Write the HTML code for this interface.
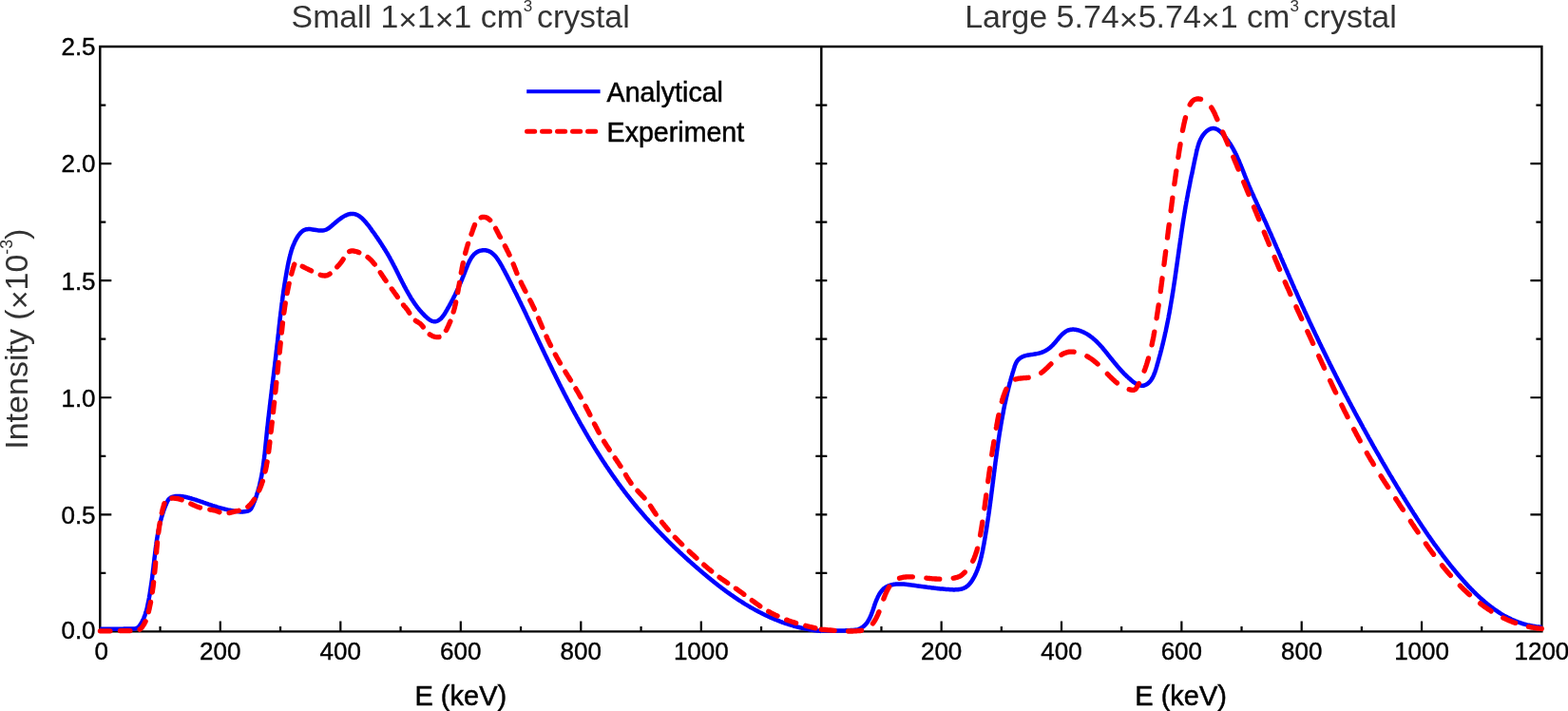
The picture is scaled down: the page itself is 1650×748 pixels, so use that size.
<!DOCTYPE html>
<html><head><meta charset="utf-8"><title>Intensity spectra</title>
<style>html,body{margin:0;padding:0;background:#fff;}body{width:1650px;height:748px;overflow:hidden;}svg{display:block;}</style>
</head><body>
<svg width="1650" height="748" viewBox="0 0 1650 748">
<rect width="1650" height="748" fill="#fff"/>
<path d="M105.3 49.0H1622.4V664.4H105.3Z" stroke="#000" stroke-width="2.4" fill="none" stroke-linejoin="miter"/>
<path d="M864.3 49.0V664.4" stroke="#000" stroke-width="2.4" fill="none"/>
<path d="M105.3 602.86h6M1622.4 602.86h-6M858.3 602.86h12M105.3 541.32h12M1622.4 541.32h-12M858.3 541.32h12M105.3 479.78h6M1622.4 479.78h-6M858.3 479.78h12M105.3 418.24h12M1622.4 418.24h-12M858.3 418.24h12M105.3 356.70h6M1622.4 356.70h-6M858.3 356.70h12M105.3 295.16h12M1622.4 295.16h-12M858.3 295.16h12M105.3 233.62h6M1622.4 233.62h-6M858.3 233.62h12M105.3 172.08h12M1622.4 172.08h-12M858.3 172.08h12M105.3 110.54h6M1622.4 110.54h-6M858.3 110.54h12M168.55 664.4v-5.5M927.47 664.4v-5.5M231.80 664.4v-11M990.65 664.4v-11M295.05 664.4v-5.5M1053.83 664.4v-5.5M358.30 664.4v-11M1117.00 664.4v-11M421.55 664.4v-5.5M1180.17 664.4v-5.5M484.80 664.4v-11M1243.35 664.4v-11M548.05 664.4v-5.5M1306.53 664.4v-5.5M611.30 664.4v-11M1369.70 664.4v-11M674.55 664.4v-5.5M1432.88 664.4v-5.5M737.80 664.4v-11M1496.05 664.4v-11M801.05 664.4v-5.5M1559.22 664.4v-5.5" stroke="#000" stroke-width="2.2" fill="none"/>
<path d="M105.4 661.8L106.4 661.8 107.4 661.8 108.4 661.8 109.4 661.8 110.4 661.8 111.4 661.8 112.4 661.8 113.4 661.8 114.4 661.8 115.4 661.8 116.4 661.8 117.4 661.7 118.4 661.7 119.4 661.7 120.4 661.7 121.4 661.7 122.4 661.7 123.4 661.7 124.4 661.7 125.4 661.7 126.4 661.7 127.4 661.7 128.4 661.7 129.4 661.7 130.4 661.6 131.4 661.6 132.4 661.6 133.4 661.6 134.4 661.6 135.4 661.6 136.4 661.5 137.4 661.5 138.4 661.5 139.4 661.5 140.4 661.4 141.4 661.4 142.3 661.3 143.3 661.1 144.1 660.7 144.9 660.3 145.6 659.7 146.3 658.9 146.9 658.2 147.5 657.4 148.0 656.5 148.6 655.7 149.1 654.8 149.5 654.0 150.0 653.1 150.5 652.2 150.9 651.3 151.3 650.4 151.7 649.4 152.0 648.5 152.4 647.6 152.7 646.6 153.0 645.7 153.3 644.7 153.6 643.8 153.9 642.8 154.2 641.9 154.4 640.9 154.7 639.9 154.9 638.9 155.1 638.0 155.3 637.0 155.5 636.0 155.7 635.0 155.9 634.1 156.1 633.1 156.3 632.1 156.5 631.1 156.7 630.1 156.9 629.1 157.0 628.2 157.2 627.2 157.4 626.2 157.6 625.2 157.7 624.2 157.9 623.2 158.0 622.2 158.2 621.3 158.3 620.3 158.5 619.3 158.6 618.3 158.8 617.3 158.9 616.3 159.1 615.3 159.2 614.3 159.4 613.3 159.5 612.3 159.6 611.4 159.8 610.4 159.9 609.4 160.0 608.4 160.2 607.4 160.3 606.4 160.4 605.4 160.5 604.4 160.7 603.4 160.8 602.4 160.9 601.4 161.0 600.4 161.1 599.5 161.3 598.5 161.4 597.5 161.5 596.5 161.6 595.5 161.7 594.5 161.8 593.5 162.0 592.5 162.1 591.5 162.2 590.5 162.3 589.5 162.4 588.5 162.5 587.5 162.6 586.5 162.8 585.5 162.9 584.6 163.0 583.6 163.1 582.6 163.2 581.6 163.3 580.6 163.5 579.6 163.6 578.6 163.7 577.6 163.8 576.6 164.0 575.6 164.1 574.6 164.2 573.6 164.4 572.6 164.5 571.7 164.6 570.7 164.8 569.7 164.9 568.7 165.1 567.7 165.2 566.7 165.4 565.7 165.6 564.7 165.7 563.7 165.9 562.8 166.1 561.8 166.2 560.8 166.4 559.8 166.6 558.8 166.8 557.8 167.0 556.9 167.2 555.9 167.4 554.9 167.6 553.9 167.8 552.9 168.0 552.0 168.3 551.0 168.5 550.0 168.7 549.1 169.0 548.1 169.2 547.1 169.5 546.2 169.7 545.2 170.0 544.2 170.3 543.3 170.6 542.3 170.9 541.4 171.2 540.4 171.5 539.4 171.8 538.5 172.1 537.5 172.4 536.6 172.8 535.7 173.1 534.7 173.5 533.8 173.8 532.9 174.2 531.9 174.6 531.0 175.0 530.1 175.4 529.2 175.8 528.3 176.2 527.4 176.7 526.5 177.2 525.7 177.8 525.0 178.5 524.3 179.3 523.8 180.2 523.3 181.1 523.0 182.0 522.7 183.0 522.4 184.0 522.2 184.9 522.1 185.9 522.0 186.9 522.0 187.9 522.0 188.9 522.0 189.9 522.1 190.9 522.2 191.9 522.3 192.9 522.5 193.9 522.6 194.9 522.8 195.8 523.0 196.8 523.2 197.8 523.5 198.8 523.7 199.7 524.0 200.7 524.2 201.6 524.5 202.6 524.8 203.6 525.1 204.5 525.4 205.5 525.7 206.4 526.0 207.4 526.3 208.3 526.6 209.3 526.9 210.2 527.3 211.2 527.6 212.1 527.9 213.0 528.2 214.0 528.6 214.9 528.9 215.9 529.2 216.8 529.6 217.8 529.9 218.7 530.2 219.6 530.6 220.6 530.9 221.5 531.2 222.5 531.5 223.4 531.8 224.4 532.1 225.3 532.4 226.3 532.7 227.3 533.0 228.2 533.3 229.2 533.6 230.1 533.9 231.1 534.2 232.1 534.4 233.0 534.7 234.0 534.9 235.0 535.2 235.9 535.4 236.9 535.7 237.9 535.9 238.8 536.1 239.8 536.4 240.8 536.6 241.8 536.8 242.8 537.0 243.7 537.2 244.7 537.3 245.7 537.5 246.7 537.7 247.7 537.8 248.7 538.0 249.7 538.1 250.7 538.2 251.6 538.3 252.6 538.4 253.6 538.4 254.6 538.4 255.6 538.4 256.6 538.3 257.6 538.2 258.6 538.1 259.6 537.9 260.5 537.7 261.5 537.3 262.3 536.9 263.1 536.4 263.7 535.7 264.3 535.0 264.8 534.1 265.2 533.3 265.6 532.4 266.1 531.5 266.5 530.5 266.8 529.6 267.2 528.7 267.6 527.8 268.0 526.8 268.3 525.9 268.7 525.0 269.0 524.0 269.4 523.1 269.7 522.1 270.0 521.2 270.3 520.2 270.6 519.3 270.9 518.3 271.2 517.4 271.5 516.4 271.8 515.5 272.0 514.5 272.3 513.5 272.6 512.6 272.8 511.6 273.1 510.6 273.3 509.7 273.5 508.7 273.7 507.7 274.0 506.7 274.2 505.8 274.4 504.8 274.6 503.8 274.8 502.8 275.0 501.8 275.2 500.9 275.4 499.9 275.5 498.9 275.7 497.9 275.9 496.9 276.1 495.9 276.2 494.9 276.4 494.0 276.5 493.0 276.7 492.0 276.8 491.0 277.0 490.0 277.1 489.0 277.2 488.0 277.4 487.0 277.5 486.0 277.6 485.0 277.8 484.1 277.9 483.1 278.0 482.1 278.1 481.1 278.2 480.1 278.3 479.1 278.5 478.1 278.6 477.1 278.7 476.1 278.8 475.1 278.9 474.1 279.0 473.1 279.1 472.1 279.2 471.1 279.3 470.1 279.4 469.1 279.5 468.2 279.6 467.2 279.7 466.2 279.8 465.2 279.9 464.2 280.0 463.2 280.1 462.2 280.2 461.2 280.3 460.2 280.4 459.2 280.5 458.2 280.6 457.2 280.7 456.2 280.8 455.2 280.9 454.2 281.0 453.2 281.1 452.2 281.2 451.2 281.3 450.2 281.4 449.3 281.6 448.3 281.7 447.3 281.8 446.3 281.9 445.3 282.0 444.3 282.1 443.3 282.2 442.3 282.3 441.3 282.4 440.3 282.5 439.3 282.7 438.3 282.8 437.3 282.9 436.3 283.0 435.3 283.1 434.3 283.2 433.4 283.3 432.4 283.5 431.4 283.6 430.4 283.7 429.4 283.8 428.4 283.9 427.4 284.0 426.4 284.2 425.4 284.3 424.4 284.4 423.4 284.5 422.4 284.6 421.4 284.7 420.4 284.9 419.4 285.0 418.5 285.1 417.5 285.2 416.5 285.3 415.5 285.5 414.5 285.6 413.5 285.7 412.5 285.8 411.5 285.9 410.5 286.1 409.5 286.2 408.5 286.3 407.5 286.4 406.5 286.5 405.5 286.7 404.6 286.8 403.6 286.9 402.6 287.0 401.6 287.1 400.6 287.3 399.6 287.4 398.6 287.5 397.6 287.6 396.6 287.8 395.6 287.9 394.6 288.0 393.6 288.1 392.6 288.2 391.7 288.4 390.7 288.5 389.7 288.6 388.7 288.7 387.7 288.8 386.7 289.0 385.7 289.1 384.7 289.2 383.7 289.3 382.7 289.4 381.7 289.5 380.7 289.7 379.7 289.8 378.7 289.9 377.8 290.0 376.8 290.1 375.8 290.3 374.8 290.4 373.8 290.5 372.8 290.6 371.8 290.7 370.8 290.8 369.8 290.9 368.8 291.1 367.8 291.2 366.8 291.3 365.8 291.4 364.8 291.5 363.8 291.6 362.9 291.7 361.9 291.9 360.9 292.0 359.9 292.1 358.9 292.2 357.9 292.3 356.9 292.4 355.9 292.5 354.9 292.6 353.9 292.7 352.9 292.8 351.9 293.0 350.9 293.1 349.9 293.2 348.9 293.3 347.9 293.4 346.9 293.5 346.0 293.6 345.0 293.7 344.0 293.8 343.0 293.9 342.0 294.1 341.0 294.2 340.0 294.3 339.0 294.4 338.0 294.5 337.0 294.6 336.0 294.7 335.0 294.8 334.0 295.0 333.0 295.1 332.0 295.2 331.0 295.3 330.1 295.4 329.1 295.5 328.1 295.7 327.1 295.8 326.1 295.9 325.1 296.0 324.1 296.1 323.1 296.3 322.1 296.4 321.1 296.5 320.1 296.6 319.1 296.8 318.1 296.9 317.2 297.0 316.2 297.2 315.2 297.3 314.2 297.4 313.2 297.5 312.2 297.7 311.2 297.8 310.2 298.0 309.2 298.1 308.2 298.2 307.2 298.4 306.3 298.5 305.3 298.7 304.3 298.8 303.3 299.0 302.3 299.1 301.3 299.3 300.3 299.4 299.3 299.6 298.3 299.7 297.4 299.9 296.4 300.0 295.4 300.2 294.4 300.4 293.4 300.5 292.4 300.7 291.4 300.9 290.4 301.0 289.5 301.2 288.5 301.4 287.5 301.6 286.5 301.7 285.5 301.9 284.5 302.1 283.6 302.3 282.6 302.5 281.6 302.6 280.6 302.8 279.6 303.0 278.6 303.2 277.7 303.4 276.7 303.6 275.7 303.8 274.7 304.1 273.8 304.3 272.8 304.5 271.8 304.7 270.8 305.0 269.9 305.2 268.9 305.4 267.9 305.7 267.0 306.0 266.0 306.3 265.0 306.5 264.1 306.8 263.1 307.1 262.2 307.5 261.2 307.8 260.3 308.1 259.3 308.5 258.4 308.9 257.5 309.3 256.6 309.7 255.6 310.1 254.7 310.5 253.8 311.0 252.9 311.4 252.1 311.9 251.2 312.4 250.3 312.9 249.5 313.5 248.6 314.0 247.8 314.6 247.0 315.2 246.2 315.9 245.4 316.6 244.7 317.3 244.0 318.0 243.4 318.8 242.8 319.7 242.3 320.6 241.9 321.5 241.5 322.4 241.3 323.4 241.2 324.4 241.1 325.4 241.1 326.4 241.1 327.4 241.2 328.3 241.4 329.3 241.5 330.3 241.7 331.3 241.8 332.3 242.0 333.3 242.1 334.3 242.3 335.3 242.4 336.3 242.5 337.3 242.5 338.3 242.5 339.2 242.5 340.2 242.4 341.2 242.2 342.2 241.9 343.1 241.6 344.0 241.2 344.8 240.7 345.7 240.2 346.5 239.6 347.3 239.0 348.1 238.4 348.8 237.7 349.6 237.1 350.3 236.4 351.1 235.8 351.9 235.1 352.6 234.5 353.4 233.8 354.1 233.2 354.9 232.6 355.7 231.9 356.5 231.3 357.3 230.7 358.1 230.1 358.9 229.5 359.7 229.0 360.6 228.4 361.4 227.9 362.3 227.4 363.2 226.9 364.1 226.5 365.0 226.1 365.9 225.7 366.8 225.4 367.8 225.2 368.8 225.0 369.7 224.9 370.7 224.9 371.7 224.9 372.7 225.1 373.7 225.3 374.6 225.6 375.5 226.0 376.4 226.4 377.3 226.9 378.1 227.4 378.9 228.0 379.7 228.6 380.5 229.3 381.2 229.9 381.9 230.6 382.6 231.3 383.3 232.1 384.0 232.8 384.6 233.5 385.3 234.3 385.9 235.1 386.5 235.9 387.2 236.6 387.8 237.4 388.4 238.2 389.0 239.0 389.6 239.8 390.2 240.6 390.8 241.5 391.3 242.3 391.9 243.1 392.5 243.9 393.1 244.7 393.7 245.5 394.3 246.3 394.8 247.1 395.4 248.0 396.0 248.8 396.5 249.6 397.1 250.4 397.7 251.2 398.2 252.1 398.8 252.9 399.4 253.7 399.9 254.6 400.5 255.4 401.0 256.2 401.6 257.1 402.1 257.9 402.6 258.8 403.2 259.6 403.7 260.4 404.2 261.3 404.8 262.1 405.3 263.0 405.8 263.8 406.3 264.7 406.9 265.6 407.4 266.4 407.9 267.3 408.4 268.1 408.9 269.0 409.4 269.9 409.9 270.7 410.4 271.6 410.8 272.5 411.3 273.4 411.8 274.2 412.3 275.1 412.7 276.0 413.2 276.9 413.7 277.8 414.1 278.7 414.6 279.6 415.1 280.4 415.5 281.3 416.0 282.2 416.4 283.1 416.9 284.0 417.3 284.9 417.8 285.8 418.2 286.7 418.7 287.6 419.1 288.5 419.6 289.4 420.0 290.3 420.4 291.2 420.9 292.1 421.3 293.0 421.8 293.8 422.2 294.7 422.7 295.6 423.1 296.5 423.6 297.4 424.1 298.3 424.5 299.2 425.0 300.1 425.4 301.0 425.9 301.8 426.4 302.7 426.8 303.6 427.3 304.5 427.8 305.4 428.3 306.2 428.8 307.1 429.3 308.0 429.8 308.9 430.3 309.7 430.8 310.6 431.3 311.4 431.8 312.3 432.3 313.2 432.8 314.0 433.4 314.9 433.9 315.7 434.5 316.5 435.0 317.4 435.6 318.2 436.1 319.0 436.7 319.8 437.3 320.7 437.9 321.5 438.5 322.3 439.1 323.1 439.7 323.9 440.3 324.6 440.9 325.4 441.6 326.2 442.2 327.0 442.9 327.7 443.5 328.5 444.2 329.2 444.9 329.9 445.6 330.6 446.3 331.4 447.0 332.1 447.7 332.8 448.4 333.4 449.2 334.1 449.9 334.8 450.7 335.4 451.5 336.0 452.3 336.6 453.2 337.1 454.0 337.5 454.9 337.9 455.9 338.1 456.8 338.3 457.8 338.3 458.7 338.2 459.7 337.9 460.6 337.5 461.4 337.1 462.3 336.5 463.1 335.9 463.8 335.3 464.5 334.6 465.2 333.8 465.8 333.0 466.4 332.3 467.0 331.4 467.5 330.6 468.1 329.8 468.6 328.9 469.1 328.1 469.6 327.2 470.1 326.4 470.6 325.5 471.1 324.6 471.6 323.7 472.1 322.9 472.6 322.0 473.1 321.1 473.6 320.3 474.1 319.4 474.5 318.5 475.0 317.6 475.5 316.7 475.9 315.9 476.4 315.0 476.9 314.1 477.3 313.2 477.8 312.3 478.2 311.4 478.7 310.5 479.1 309.6 479.6 308.7 480.0 307.8 480.4 306.9 480.8 306.0 481.3 305.1 481.7 304.2 482.1 303.3 482.5 302.4 482.9 301.5 483.3 300.5 483.7 299.6 484.1 298.7 484.5 297.8 484.9 296.9 485.3 295.9 485.7 295.0 486.1 294.1 486.4 293.2 486.8 292.2 487.2 291.3 487.6 290.4 487.9 289.5 488.3 288.5 488.7 287.6 489.0 286.7 489.4 285.7 489.7 284.8 490.1 283.9 490.5 282.9 490.8 282.0 491.2 281.1 491.6 280.1 492.0 279.2 492.3 278.3 492.7 277.4 493.2 276.5 493.6 275.6 494.0 274.7 494.5 273.8 495.0 272.9 495.5 272.1 496.0 271.2 496.6 270.4 497.2 269.6 497.8 268.8 498.4 268.1 499.1 267.3 499.9 266.7 500.6 266.1 501.4 265.5 502.3 265.0 503.2 264.5 504.1 264.1 505.0 263.8 506.0 263.6 507.0 263.4 507.9 263.3 508.9 263.2 509.9 263.2 510.9 263.3 511.9 263.5 512.8 263.7 513.8 264.0 514.7 264.4 515.6 264.8 516.5 265.3 517.3 265.9 518.1 266.5 518.8 267.1 519.6 267.8 520.3 268.5 521.0 269.2 521.6 269.9 522.2 270.7 522.8 271.5 523.4 272.3 524.0 273.2 524.5 274.0 525.1 274.8 525.6 275.7 526.1 276.5 526.6 277.4 527.1 278.3 527.6 279.1 528.1 280.0 528.6 280.9 529.0 281.8 529.5 282.7 530.0 283.5 530.5 284.4 530.9 285.3 531.4 286.2 531.9 287.1 532.3 288.0 532.8 288.8 533.3 289.7 533.7 290.6 534.2 291.5 534.6 292.4 535.1 293.3 535.6 294.2 536.0 295.1 536.5 295.9 536.9 296.8 537.4 297.7 537.8 298.6 538.3 299.5 538.7 300.4 539.2 301.3 539.6 302.2 540.1 303.1 540.5 304.0 541.0 304.9 541.4 305.8 541.9 306.7 542.3 307.6 542.8 308.4 543.2 309.3 543.7 310.2 544.1 311.1 544.5 312.0 545.0 312.9 545.4 313.8 545.9 314.7 546.3 315.6 546.7 316.5 547.2 317.4 547.6 318.3 548.1 319.2 548.5 320.1 548.9 321.0 549.4 321.9 549.8 322.8 550.2 323.7 550.7 324.6 551.1 325.5 551.5 326.4 552.0 327.3 552.4 328.2 552.8 329.1 553.3 330.0 553.7 330.9 554.1 331.8 554.5 332.7 555.0 333.7 555.4 334.6 555.8 335.5 556.3 336.4 556.7 337.3 557.1 338.2 557.5 339.1 558.0 340.0 558.4 340.9 558.8 341.8 559.2 342.7 559.7 343.6 560.1 344.5 560.5 345.4 561.0 346.3 561.4 347.2 561.8 348.1 562.2 349.0 562.7 349.9 563.1 350.8 563.5 351.7 563.9 352.6 564.4 353.5 564.8 354.5 565.2 355.4 565.6 356.3 566.1 357.2 566.5 358.1 566.9 359.0 567.3 359.9 567.8 360.8 568.2 361.7 568.6 362.6 569.1 363.5 569.5 364.4 569.9 365.3 570.3 366.2 570.8 367.1 571.2 368.0 571.6 368.9 572.1 369.8 572.5 370.7 572.9 371.6 573.3 372.5 573.8 373.4 574.2 374.3 574.6 375.2 575.1 376.1 575.5 377.0 575.9 377.9 576.4 378.8 576.8 379.7 577.2 380.6 577.7 381.5 578.1 382.4 578.5 383.3 579.0 384.2 579.4 385.1 579.9 386.0 580.3 386.9 580.7 387.8 581.2 388.7 581.6 389.6 582.0 390.5 582.5 391.4 582.9 392.3 583.4 393.2 583.8 394.1 584.3 395.0 584.7 395.9 585.1 396.8 585.6 397.7 586.0 398.6 586.5 399.5 586.9 400.4 587.4 401.3 587.8 402.2 588.3 403.1 588.7 404.0 589.2 404.9 589.6 405.8 590.1 406.6 590.5 407.5 591.0 408.4 591.4 409.3 591.9 410.2 592.3 411.1 592.8 412.0 593.2 412.9 593.7 413.8 594.2 414.7 594.6 415.6 595.1 416.4 595.5 417.3 596.0 418.2 596.5 419.1 596.9 420.0 597.4 420.9 597.9 421.8 598.3 422.6 598.8 423.5 599.3 424.4 599.7 425.3 600.2 426.2 600.7 427.1 601.1 428.0 601.6 428.8 602.1 429.7 602.5 430.6 603.0 431.5 603.5 432.4 604.0 433.2 604.4 434.1 604.9 435.0 605.4 435.9 605.9 436.7 606.4 437.6 606.8 438.5 607.3 439.4 607.8 440.3 608.3 441.1 608.8 442.0 609.3 442.9 609.7 443.8 610.2 444.6 610.7 445.5 611.2 446.4 611.7 447.2 612.2 448.1 612.7 449.0 613.2 449.8 613.7 450.7 614.2 451.6 614.7 452.5 615.2 453.3 615.7 454.2 616.2 455.1 616.7 455.9 617.2 456.8 617.7 457.6 618.2 458.5 618.7 459.4 619.2 460.2 619.7 461.1 620.2 461.9 620.7 462.8 621.3 463.7 621.8 464.5 622.3 465.4 622.8 466.2 623.3 467.1 623.8 467.9 624.4 468.8 624.9 469.7 625.4 470.5 625.9 471.4 626.4 472.2 627.0 473.1 627.5 473.9 628.0 474.8 628.6 475.6 629.1 476.5 629.6 477.3 630.2 478.1 630.7 479.0 631.2 479.8 631.8 480.7 632.3 481.5 632.8 482.4 633.4 483.2 633.9 484.0 634.5 484.9 635.0 485.7 635.6 486.6 636.1 487.4 636.7 488.2 637.2 489.1 637.8 489.9 638.3 490.7 638.9 491.6 639.4 492.4 640.0 493.2 640.6 494.0 641.1 494.9 641.7 495.7 642.3 496.5 642.8 497.3 643.4 498.2 644.0 499.0 644.5 499.8 645.1 500.6 645.7 501.4 646.3 502.3 646.8 503.1 647.4 503.9 648.0 504.7 648.6 505.5 649.2 506.3 649.7 507.1 650.3 508.0 650.9 508.8 651.5 509.6 652.1 510.4 652.7 511.2 653.3 512.0 653.9 512.8 654.5 513.6 655.1 514.4 655.7 515.2 656.3 516.0 656.9 516.8 657.5 517.6 658.1 518.4 658.7 519.2 659.3 520.0 659.9 520.8 660.5 521.5 661.2 522.3 661.8 523.1 662.4 523.9 663.0 524.7 663.6 525.5 664.3 526.3 664.9 527.0 665.5 527.8 666.1 528.6 666.8 529.4 667.4 530.1 668.0 530.9 668.7 531.7 669.3 532.5 669.9 533.2 670.6 534.0 671.2 534.8 671.9 535.5 672.5 536.3 673.2 537.1 673.8 537.8 674.5 538.6 675.1 539.3 675.8 540.1 676.4 540.8 677.1 541.6 677.7 542.4 678.4 543.1 679.1 543.9 679.7 544.6 680.4 545.4 681.1 546.1 681.7 546.8 682.4 547.6 683.1 548.3 683.7 549.1 684.4 549.8 685.1 550.5 685.8 551.3 686.4 552.0 687.1 552.8 687.8 553.5 688.5 554.2 689.2 555.0 689.8 555.7 690.5 556.4 691.2 557.1 691.9 557.9 692.6 558.6 693.3 559.3 694.0 560.0 694.7 560.7 695.4 561.5 696.1 562.2 696.8 562.9 697.5 563.6 698.2 564.3 698.9 565.0 699.6 565.7 700.3 566.5 701.0 567.2 701.7 567.9 702.4 568.6 703.1 569.3 703.8 570.0 704.5 570.7 705.2 571.4 706.0 572.1 706.7 572.8 707.4 573.5 708.1 574.2 708.8 574.9 709.5 575.6 710.3 576.3 711.0 577.0 711.7 577.6 712.4 578.3 713.2 579.0 713.9 579.7 714.6 580.4 715.3 581.1 716.1 581.8 716.8 582.4 717.5 583.1 718.3 583.8 719.0 584.5 719.8 585.1 720.5 585.8 721.2 586.5 722.0 587.2 722.7 587.8 723.4 588.5 724.2 589.2 724.9 589.9 725.7 590.5 726.4 591.2 727.2 591.8 727.9 592.5 728.7 593.2 729.4 593.8 730.2 594.5 730.9 595.2 731.7 595.8 732.4 596.5 733.2 597.1 733.9 597.8 734.7 598.4 735.5 599.1 736.2 599.7 737.0 600.4 737.7 601.0 738.5 601.7 739.3 602.3 740.0 603.0 740.8 603.6 741.6 604.3 742.3 604.9 743.1 605.5 743.9 606.2 744.6 606.8 745.4 607.5 746.2 608.1 747.0 608.7 747.7 609.4 748.5 610.0 749.3 610.6 750.1 611.2 750.8 611.9 751.6 612.5 752.4 613.1 753.2 613.7 754.0 614.4 754.8 615.0 755.6 615.6 756.3 616.2 757.1 616.8 757.9 617.4 758.7 618.0 759.5 618.6 760.3 619.2 761.1 619.8 761.9 620.4 762.7 621.0 763.5 621.6 764.3 622.2 765.1 622.8 766.0 623.4 766.8 624.0 767.6 624.5 768.4 625.1 769.2 625.7 770.0 626.3 770.9 626.8 771.7 627.4 772.5 628.0 773.3 628.5 774.2 629.1 775.0 629.7 775.8 630.2 776.7 630.8 777.5 631.3 778.3 631.9 779.2 632.4 780.0 632.9 780.9 633.5 781.7 634.0 782.5 634.5 783.4 635.1 784.2 635.6 785.1 636.1 786.0 636.6 786.8 637.1 787.7 637.6 788.5 638.1 789.4 638.7 790.3 639.2 791.1 639.6 792.0 640.1 792.9 640.6 793.8 641.1 794.6 641.6 795.5 642.1 796.4 642.5 797.3 643.0 798.2 643.5 799.0 643.9 799.9 644.4 800.8 644.9 801.7 645.3 802.6 645.8 803.5 646.2 804.4 646.6 805.3 647.1 806.2 647.5 807.1 647.9 808.0 648.3 808.9 648.8 809.8 649.2 810.8 649.6 811.7 650.0 812.6 650.4 813.5 650.8 814.4 651.2 815.4 651.6 816.3 651.9 817.2 652.3 818.1 652.7 819.1 653.0 820.0 653.4 820.9 653.8 821.9 654.1 822.8 654.5 823.7 654.8 824.7 655.1 825.6 655.5 826.6 655.8 827.5 656.1 828.5 656.4 829.4 656.7 830.4 657.1 831.3 657.3 832.3 657.6 833.2 657.9 834.2 658.2 835.2 658.5 836.1 658.8 837.1 659.0 838.1 659.3 839.0 659.5 840.0 659.8 841.0 660.0 841.9 660.3 842.9 660.5 843.9 660.7 844.9 660.9 845.8 661.1 846.8 661.4 847.8 661.6 848.8 661.7 849.8 661.9 850.7 662.1 851.7 662.3 852.7 662.4 853.7 662.6 854.7 662.8 855.7 662.9 856.7 663.0 857.7 663.2 858.6 663.3 859.6 663.4 860.6 663.5 861.6 663.6 862.5 663.7 863.4 663.8 864.2 663.9" stroke="#0000ff" stroke-width="4.5" fill="none" stroke-linejoin="round"/>
<path d="M105.4 663.8L106.4 663.8 107.4 663.8 108.4 663.8 109.4 663.8 110.4 663.8 111.4 663.8 112.4 663.8 113.4 663.8 114.4 663.8 115.4 663.8 116.4 663.8 117.4 663.8 118.4 663.8 119.4 663.8 120.4 663.8 121.4 663.8 122.4 663.8 123.4 663.8 124.4 663.8 125.4 663.8 126.4 663.7 127.4 663.7 128.4 663.7 129.4 663.7 130.4 663.7 131.4 663.7 132.4 663.7 133.4 663.7 134.4 663.6 135.4 663.6 136.4 663.6 137.4 663.6 138.4 663.6 139.4 663.6 140.4 663.5 141.4 663.5 142.4 663.5 143.4 663.4 144.3 663.3 145.3 663.1 146.1 662.7 146.9 662.3 147.7 661.7 148.4 661.0 149.1 660.3 149.7 659.5 150.3 658.7 150.8 657.9 151.4 657.0 151.9 656.1 152.3 655.3 152.8 654.4 153.2 653.5 153.6 652.5 153.9 651.6 154.3 650.7 154.6 649.7 154.9 648.8 155.2 647.8 155.5 646.9 155.8 645.9 156.0 644.9 156.3 644.0 156.5 643.0 156.7 642.0 157.0 641.1 157.2 640.1 157.4 639.1 157.6 638.1 157.8 637.1 158.0 636.2 158.2 635.2 158.4 634.2 158.6 633.2 158.7 632.2 158.9 631.2 159.1 630.3 159.3 629.3 159.4 628.3 159.6 627.3 159.8 626.3 159.9 625.3 160.1 624.3 160.2 623.4 160.4 622.4 160.5 621.4 160.6 620.4 160.8 619.4 160.9 618.4 161.1 617.4 161.2 616.4 161.3 615.4 161.4 614.4 161.5 613.4 161.7 612.4 161.8 611.5 161.9 610.5 162.0 609.5 162.1 608.5 162.2 607.5 162.3 606.5 162.4 605.5 162.5 604.5 162.6 603.5 162.7 602.5 162.8 601.5 162.9 600.5 163.0 599.5 163.1 598.5 163.2 597.5 163.3 596.5 163.4 595.5 163.5 594.5 163.6 593.5 163.6 592.5 163.7 591.6 163.8 590.6 163.9 589.6 164.0 588.6 164.1 587.6 164.1 586.6 164.2 585.6 164.3 584.6 164.4 583.6 164.5 582.6 164.6 581.6 164.7 580.6 164.7 579.6 164.8 578.6 164.9 577.6 165.0 576.6 165.1 575.6 165.2 574.6 165.3 573.6 165.4 572.6 165.5 571.6 165.6 570.6 165.7 569.6 165.8 568.6 165.9 567.7 166.0 566.7 166.1 565.7 166.2 564.7 166.3 563.7 166.5 562.7 166.6 561.7 166.7 560.7 166.8 559.7 167.0 558.7 167.1 557.7 167.2 556.7 167.4 555.7 167.5 554.8 167.7 553.8 167.8 552.8 168.0 551.8 168.1 550.8 168.3 549.8 168.5 548.8 168.7 547.8 168.8 546.9 169.0 545.9 169.2 544.9 169.4 543.9 169.6 542.9 169.8 542.0 170.0 541.0 170.2 540.0 170.5 539.0 170.7 538.1 170.9 537.1 171.1 536.1 171.4 535.1 171.6 534.2 171.9 533.2 172.2 532.2 172.4 531.3 172.7 530.3 173.0 529.4 173.3 528.5 173.7 527.6 174.2 526.8 174.8 526.1 175.6 525.6 176.4 525.2 177.3 524.9 178.3 524.6 179.2 524.4 180.2 524.3 181.2 524.2 182.2 524.2 183.2 524.2 184.2 524.3 185.2 524.4 186.2 524.5 187.1 524.7 188.1 524.9 189.1 525.2 190.0 525.5 191.0 525.8 191.9 526.1 192.8 526.5 193.8 526.9 194.7 527.3 195.6 527.7 196.5 528.1 197.4 528.5 198.3 528.9 199.3 529.3 200.2 529.7 201.1 530.2 202.0 530.6 202.9 531.0 203.8 531.4 204.7 531.8 205.6 532.2 206.5 532.6 207.5 533.0 208.4 533.3 209.3 533.7 210.3 534.0 211.3 534.3 212.2 534.5 213.2 534.8 214.2 535.0 215.1 535.2 216.1 535.3 217.1 535.5 218.1 535.7 219.1 535.8 220.1 536.0 221.1 536.1 222.1 536.3 223.0 536.4 224.0 536.6 225.0 536.8 226.0 537.0 226.9 537.3 227.9 537.6 228.8 537.9 229.8 538.3 230.7 538.7 231.6 539.1 232.5 539.4 233.5 539.8 234.4 540.0 235.4 540.2 236.3 540.3 237.3 540.3 238.3 540.2 239.3 540.0 240.3 539.8 241.2 539.6 242.2 539.3 243.2 539.1 244.1 538.8 245.1 538.6 246.1 538.3 247.0 538.1 248.0 537.9 249.0 537.7 250.0 537.5 250.9 537.3 251.9 537.0 252.9 536.8 253.8 536.5 254.8 536.2 255.7 535.9 256.7 535.6 257.6 535.1 258.5 534.7 259.3 534.2 260.1 533.6 260.9 533.0 261.7 532.4 262.4 531.7 263.1 531.0 263.8 530.3 264.5 529.5 265.1 528.8 265.7 528.0 266.3 527.2 266.9 526.4 267.5 525.5 268.0 524.7 268.6 523.9 269.1 523.0 269.6 522.1 270.1 521.3 270.5 520.4 271.0 519.5 271.5 518.6 271.9 517.7 272.3 516.8 272.7 515.9 273.1 515.0 273.5 514.1 273.9 513.1 274.3 512.2 274.6 511.3 275.0 510.3 275.3 509.4 275.6 508.5 275.9 507.5 276.3 506.6 276.6 505.6 276.8 504.6 277.1 503.7 277.4 502.7 277.7 501.8 277.9 500.8 278.2 499.8 278.4 498.9 278.7 497.9 278.9 496.9 279.1 495.9 279.3 495.0 279.6 494.0 279.8 493.0 280.0 492.0 280.2 491.0 280.4 490.1 280.5 489.1 280.7 488.1 280.9 487.1 281.1 486.1 281.2 485.1 281.4 484.2 281.5 483.2 281.7 482.2 281.8 481.2 282.0 480.2 282.1 479.2 282.3 478.2 282.4 477.2 282.5 476.2 282.7 475.3 282.8 474.3 282.9 473.3 283.1 472.3 283.2 471.3 283.3 470.3 283.4 469.3 283.5 468.3 283.7 467.3 283.8 466.3 283.9 465.3 284.0 464.3 284.1 463.3 284.2 462.3 284.3 461.4 284.5 460.4 284.6 459.4 284.7 458.4 284.8 457.4 284.9 456.4 285.0 455.4 285.1 454.4 285.2 453.4 285.4 452.4 285.5 451.4 285.6 450.4 285.7 449.4 285.8 448.4 285.9 447.4 286.0 446.4 286.1 445.5 286.3 444.5 286.4 443.5 286.5 442.5 286.6 441.5 286.7 440.5 286.8 439.5 286.9 438.5 287.0 437.5 287.1 436.5 287.3 435.5 287.4 434.5 287.5 433.5 287.6 432.5 287.7 431.5 287.8 430.5 287.9 429.6 288.0 428.6 288.1 427.6 288.2 426.6 288.3 425.6 288.5 424.6 288.6 423.6 288.7 422.6 288.8 421.6 288.9 420.6 289.0 419.6 289.1 418.6 289.2 417.6 289.3 416.6 289.4 415.6 289.5 414.6 289.6 413.6 289.7 412.7 289.9 411.7 290.0 410.7 290.1 409.7 290.2 408.7 290.3 407.7 290.4 406.7 290.5 405.7 290.6 404.7 290.7 403.7 290.8 402.7 290.9 401.7 291.0 400.7 291.1 399.7 291.2 398.7 291.3 397.7 291.5 396.7 291.6 395.7 291.7 394.8 291.8 393.8 291.9 392.8 292.0 391.8 292.1 390.8 292.2 389.8 292.3 388.8 292.4 387.8 292.5 386.8 292.6 385.8 292.7 384.8 292.8 383.8 292.9 382.8 293.0 381.8 293.1 380.8 293.2 379.8 293.3 378.8 293.4 377.8 293.5 376.9 293.6 375.9 293.8 374.9 293.9 373.9 294.0 372.9 294.1 371.9 294.2 370.9 294.3 369.9 294.4 368.9 294.5 367.9 294.6 366.9 294.7 365.9 294.8 364.9 294.9 363.9 295.0 362.9 295.1 361.9 295.2 360.9 295.3 359.9 295.4 358.9 295.5 358.0 295.6 357.0 295.7 356.0 295.8 355.0 295.9 354.0 296.0 353.0 296.1 352.0 296.2 351.0 296.3 350.0 296.4 349.0 296.6 348.0 296.7 347.0 296.8 346.0 296.9 345.0 297.0 344.0 297.1 343.0 297.2 342.0 297.3 341.1 297.4 340.1 297.6 339.1 297.7 338.1 297.8 337.1 297.9 336.1 298.0 335.1 298.2 334.1 298.3 333.1 298.4 332.1 298.6 331.1 298.7 330.1 298.8 329.1 298.9 328.2 299.1 327.2 299.2 326.2 299.4 325.2 299.5 324.2 299.6 323.2 299.8 322.2 299.9 321.2 300.1 320.2 300.2 319.2 300.4 318.3 300.6 317.3 300.7 316.3 300.9 315.3 301.1 314.3 301.2 313.3 301.4 312.3 301.6 311.4 301.7 310.4 301.9 309.4 302.1 308.4 302.3 307.4 302.5 306.4 302.7 305.5 302.9 304.5 303.1 303.5 303.3 302.5 303.5 301.5 303.7 300.6 303.9 299.6 304.1 298.6 304.4 297.6 304.6 296.7 304.8 295.7 305.0 294.7 305.3 293.7 305.5 292.8 305.8 291.8 306.0 290.8 306.3 289.9 306.5 288.9 306.8 287.9 307.0 287.0 307.3 286.0 307.6 285.0 307.9 284.1 308.1 283.1 308.4 282.2 308.7 281.2 309.0 280.3 309.3 279.3 309.6 278.4 310.0 277.6 310.4 276.9 310.8 276.5 311.4 276.3 312.0 276.5 312.8 276.8 313.5 277.3 314.4 277.9 315.2 278.4 316.0 278.9 316.9 279.5 317.7 280.0 318.6 280.5 319.5 280.9 320.4 281.4 321.3 281.8 322.2 282.3 323.1 282.7 324.0 283.1 324.9 283.6 325.8 284.0 326.7 284.4 327.6 284.9 328.5 285.3 329.4 285.8 330.3 286.2 331.2 286.7 332.1 287.1 333.0 287.5 333.9 287.9 334.8 288.3 335.7 288.7 336.6 289.1 337.6 289.4 338.6 289.6 339.5 289.8 340.5 289.9 341.5 290.0 342.5 290.0 343.4 289.8 344.4 289.6 345.3 289.2 346.1 288.7 347.0 288.2 347.8 287.6 348.5 287.0 349.2 286.3 350.0 285.6 350.7 284.9 351.4 284.2 352.1 283.5 352.8 282.8 353.5 282.0 354.2 281.3 354.9 280.6 355.6 279.9 356.2 279.2 356.9 278.4 357.6 277.7 358.2 276.9 358.8 276.1 359.4 275.3 360.0 274.5 360.6 273.7 361.1 272.8 361.6 272.0 362.1 271.1 362.6 270.3 363.1 269.4 363.7 268.5 364.2 267.7 364.8 266.9 365.4 266.2 366.1 265.5 366.9 264.9 367.7 264.5 368.6 264.2 369.6 264.0 370.5 263.9 371.5 263.9 372.5 264.1 373.5 264.3 374.4 264.5 375.4 264.8 376.4 265.1 377.3 265.4 378.2 265.8 379.2 266.1 380.1 266.5 381.0 267.0 381.9 267.4 382.8 267.9 383.6 268.4 384.5 268.9 385.3 269.4 386.1 270.0 386.9 270.6 387.7 271.2 388.5 271.8 389.2 272.5 390.0 273.2 390.7 273.9 391.4 274.6 392.0 275.4 392.7 276.1 393.3 276.9 394.0 277.7 394.6 278.4 395.2 279.2 395.8 280.0 396.3 280.9 396.9 281.7 397.5 282.5 398.0 283.3 398.6 284.2 399.1 285.0 399.7 285.8 400.2 286.7 400.8 287.5 401.3 288.4 401.9 289.2 402.4 290.0 403.0 290.9 403.5 291.7 404.1 292.5 404.6 293.4 405.2 294.2 405.8 295.0 406.4 295.8 406.9 296.6 407.5 297.4 408.1 298.3 408.7 299.1 409.3 299.9 409.9 300.7 410.5 301.5 411.0 302.3 411.6 303.1 412.2 303.9 412.8 304.7 413.4 305.5 414.0 306.3 414.6 307.1 415.2 308.0 415.8 308.8 416.3 309.6 416.9 310.4 417.5 311.2 418.0 312.0 418.6 312.9 419.2 313.7 419.7 314.5 420.3 315.4 420.9 316.2 421.4 317.0 422.0 317.8 422.6 318.6 423.2 319.4 423.8 320.2 424.5 320.9 425.1 321.7 425.8 322.5 426.5 323.2 427.1 324.0 427.7 324.7 428.4 325.5 429.0 326.3 429.5 327.1 430.0 328.0 430.6 328.8 431.0 329.7 431.5 330.6 432.0 331.5 432.5 332.3 433.1 333.2 433.6 334.0 434.3 334.7 434.9 335.5 435.7 336.1 436.4 336.7 437.3 337.3 438.1 337.9 438.9 338.4 439.8 338.9 440.6 339.5 441.5 340.0 442.2 340.6 443.0 341.3 443.7 342.0 444.3 342.7 445.0 343.5 445.5 344.3 446.1 345.1 446.7 345.9 447.3 346.8 447.9 347.6 448.5 348.3 449.1 349.1 449.8 349.8 450.6 350.5 451.3 351.1 452.1 351.7 452.9 352.3 453.8 352.8 454.7 353.3 455.6 353.7 456.5 354.0 457.4 354.3 458.4 354.5 459.4 354.7 460.3 354.7 461.3 354.6 462.3 354.5 463.2 354.2 464.1 353.8 464.9 353.3 465.7 352.7 466.4 352.0 467.0 351.2 467.6 350.5 468.2 349.6 468.7 348.8 469.2 347.9 469.7 347.1 470.2 346.2 470.6 345.3 471.1 344.4 471.5 343.5 471.9 342.6 472.3 341.7 472.7 340.7 473.1 339.8 473.5 338.9 473.9 338.0 474.2 337.0 474.6 336.1 474.9 335.2 475.3 334.2 475.6 333.3 475.9 332.3 476.2 331.4 476.5 330.4 476.8 329.5 477.1 328.5 477.3 327.5 477.6 326.6 477.9 325.6 478.1 324.6 478.4 323.7 478.6 322.7 478.8 321.7 479.1 320.8 479.3 319.8 479.5 318.8 479.7 317.8 479.9 316.8 480.1 315.9 480.3 314.9 480.5 313.9 480.7 312.9 480.9 311.9 481.1 311.0 481.3 310.0 481.5 309.0 481.6 308.0 481.8 307.0 482.0 306.0 482.2 305.1 482.3 304.1 482.5 303.1 482.7 302.1 482.9 301.1 483.0 300.1 483.2 299.2 483.4 298.2 483.5 297.2 483.7 296.2 483.9 295.2 484.0 294.2 484.2 293.2 484.4 292.3 484.5 291.3 484.7 290.3 484.9 289.3 485.1 288.3 485.2 287.3 485.4 286.3 485.6 285.4 485.8 284.4 486.0 283.4 486.1 282.4 486.3 281.4 486.5 280.4 486.7 279.5 486.9 278.5 487.1 277.5 487.3 276.5 487.5 275.5 487.7 274.6 487.9 273.6 488.2 272.6 488.4 271.6 488.6 270.7 488.8 269.7 489.1 268.7 489.3 267.8 489.5 266.8 489.8 265.8 490.1 264.8 490.3 263.9 490.6 262.9 490.9 262.0 491.1 261.0 491.4 260.0 491.7 259.1 492.0 258.1 492.3 257.2 492.6 256.2 492.9 255.3 493.3 254.3 493.6 253.4 493.9 252.4 494.2 251.5 494.5 250.5 494.9 249.6 495.2 248.6 495.5 247.7 495.9 246.8 496.2 245.8 496.5 244.9 496.9 243.9 497.2 243.0 497.5 242.0 497.9 241.1 498.2 240.2 498.5 239.2 498.9 238.3 499.3 237.4 499.6 236.4 500.0 235.5 500.5 234.6 501.0 233.8 501.5 232.9 502.1 232.1 502.7 231.3 503.4 230.6 504.1 230.0 504.9 229.4 505.8 229.0 506.7 228.6 507.6 228.4 508.6 228.3 509.5 228.3 510.5 228.5 511.4 228.8 512.3 229.1 513.2 229.6 514.0 230.2 514.8 230.8 515.5 231.4 516.2 232.2 516.9 232.9 517.5 233.7 518.1 234.5 518.7 235.3 519.2 236.1 519.7 237.0 520.2 237.8 520.7 238.7 521.2 239.6 521.7 240.5 522.1 241.4 522.6 242.2 523.0 243.1 523.5 244.0 523.9 244.9 524.4 245.8 524.9 246.7 525.3 247.6 525.8 248.5 526.3 249.3 526.8 250.2 527.2 251.1 527.7 252.0 528.2 252.9 528.7 253.7 529.1 254.6 529.6 255.5 530.1 256.4 530.6 257.3 531.0 258.1 531.5 259.0 532.0 259.9 532.4 260.8 532.9 261.7 533.3 262.6 533.8 263.5 534.2 264.4 534.7 265.2 535.1 266.1 535.5 267.1 536.0 268.0 536.4 268.9 536.8 269.8 537.2 270.7 537.6 271.6 538.0 272.5 538.4 273.4 538.8 274.4 539.1 275.3 539.5 276.2 539.9 277.2 540.3 278.1 540.6 279.0 541.0 279.9 541.4 280.9 541.7 281.8 542.1 282.7 542.4 283.7 542.8 284.6 543.2 285.5 543.5 286.5 543.9 287.4 544.3 288.3 544.7 289.2 545.1 290.2 545.5 291.1 545.9 292.0 546.3 292.9 546.7 293.8 547.1 294.7 547.5 295.6 547.9 296.5 548.4 297.4 548.8 298.3 549.2 299.2 549.7 300.1 550.1 301.0 550.6 301.9 551.0 302.8 551.5 303.7 551.9 304.6 552.4 305.5 552.9 306.4 553.3 307.3 553.8 308.2 554.2 309.0 554.7 309.9 555.2 310.8 555.6 311.7 556.1 312.6 556.5 313.5 557.0 314.4 557.5 315.3 557.9 316.2 558.4 317.0 558.8 317.9 559.3 318.8 559.7 319.7 560.1 320.6 560.6 321.5 561.0 322.4 561.4 323.3 561.9 324.2 562.3 325.1 562.7 326.1 563.1 327.0 563.5 327.9 563.9 328.8 564.3 329.7 564.7 330.6 565.2 331.5 565.6 332.4 566.0 333.4 566.4 334.3 566.8 335.2 567.2 336.1 567.5 337.0 567.9 337.9 568.3 338.9 568.7 339.8 569.1 340.7 569.5 341.6 569.9 342.5 570.3 343.5 570.7 344.4 571.1 345.3 571.5 346.2 571.9 347.1 572.3 348.0 572.7 349.0 573.1 349.9 573.5 350.8 573.9 351.7 574.3 352.6 574.7 353.5 575.2 354.4 575.6 355.3 576.0 356.3 576.4 357.2 576.8 358.1 577.3 359.0 577.7 359.9 578.1 360.8 578.6 361.7 579.0 362.6 579.5 363.5 579.9 364.4 580.4 365.3 580.8 366.1 581.3 367.0 581.7 367.9 582.2 368.8 582.6 369.7 583.1 370.6 583.6 371.5 584.0 372.4 584.5 373.2 585.0 374.1 585.5 375.0 585.9 375.9 586.4 376.7 586.9 377.6 587.4 378.5 587.9 379.4 588.4 380.2 588.9 381.1 589.4 382.0 589.9 382.8 590.4 383.7 590.9 384.5 591.4 385.4 592.0 386.3 592.5 387.1 593.0 388.0 593.5 388.8 594.0 389.7 594.6 390.5 595.1 391.4 595.6 392.2 596.1 393.1 596.7 393.9 597.2 394.8 597.7 395.6 598.3 396.5 598.8 397.3 599.3 398.2 599.8 399.0 600.4 399.9 600.9 400.7 601.4 401.6 602.0 402.4 602.5 403.3 603.0 404.1 603.5 405.0 604.1 405.8 604.6 406.7 605.1 407.5 605.6 408.4 606.1 409.2 606.6 410.1 607.1 411.0 607.7 411.8 608.2 412.7 608.7 413.6 609.2 414.4 609.6 415.3 610.1 416.2 610.6 417.0 611.1 417.9 611.6 418.8 612.1 419.7 612.6 420.5 613.0 421.4 613.5 422.3 614.0 423.2 614.5 424.0 614.9 424.9 615.4 425.8 615.9 426.7 616.3 427.6 616.8 428.5 617.3 429.4 617.7 430.3 618.2 431.1 618.6 432.0 619.1 432.9 619.5 433.8 620.0 434.7 620.4 435.6 620.9 436.5 621.3 437.4 621.7 438.3 622.2 439.2 622.6 440.1 623.1 441.0 623.5 441.9 624.0 442.8 624.4 443.7 624.9 444.6 625.3 445.5 625.7 446.4 626.2 447.3 626.6 448.1 627.1 449.0 627.6 449.9 628.0 450.8 628.5 451.7 628.9 452.6 629.4 453.5 629.9 454.4 630.3 455.2 630.8 456.1 631.3 457.0 631.8 457.9 632.3 458.7 632.8 459.6 633.3 460.5 633.8 461.3 634.3 462.2 634.8 463.1 635.3 463.9 635.8 464.8 636.4 465.6 636.9 466.5 637.4 467.3 638.0 468.2 638.5 469.0 639.1 469.8 639.6 470.7 640.2 471.5 640.7 472.3 641.3 473.2 641.8 474.0 642.4 474.8 643.0 475.6 643.5 476.5 644.1 477.3 644.7 478.1 645.2 478.9 645.8 479.8 646.4 480.6 646.9 481.4 647.5 482.2 648.0 483.1 648.6 483.9 649.2 484.7 649.7 485.6 650.3 486.4 650.8 487.2 651.4 488.1 651.9 488.9 652.4 489.7 653.0 490.6 653.5 491.4 654.0 492.3 654.6 493.1 655.1 494.0 655.6 494.9 656.1 495.7 656.6 496.6 657.1 497.4 657.6 498.3 658.2 499.1 658.7 500.0 659.2 500.9 659.7 501.7 660.2 502.6 660.8 503.4 661.3 504.3 661.8 505.1 662.4 505.9 663.0 506.8 663.5 507.6 664.1 508.4 664.7 509.2 665.3 510.0 665.9 510.8 666.6 511.5 667.2 512.3 667.9 513.1 668.5 513.8 669.2 514.5 669.9 515.3 670.6 516.0 671.3 516.7 671.9 517.5 672.6 518.2 673.3 518.9 674.0 519.6 674.7 520.3 675.4 521.1 676.1 521.8 676.8 522.5 677.5 523.3 678.1 524.0 678.8 524.7 679.4 525.5 680.1 526.3 680.7 527.0 681.3 527.8 681.9 528.6 682.5 529.4 683.1 530.3 683.7 531.1 684.2 531.9 684.8 532.7 685.3 533.6 685.9 534.4 686.4 535.3 686.9 536.1 687.5 536.9 688.0 537.8 688.6 538.6 689.2 539.4 689.7 540.3 690.3 541.1 690.9 541.9 691.5 542.7 692.1 543.5 692.6 544.3 693.2 545.1 693.8 545.9 694.5 546.7 695.1 547.5 695.7 548.3 696.3 549.1 696.9 549.9 697.5 550.6 698.2 551.4 698.8 552.2 699.4 553.0 700.1 553.7 700.7 554.5 701.4 555.3 702.0 556.0 702.7 556.8 703.3 557.5 704.0 558.3 704.6 559.0 705.3 559.8 706.0 560.5 706.6 561.3 707.3 562.0 708.0 562.8 708.7 563.5 709.3 564.2 710.0 565.0 710.7 565.7 711.4 566.4 712.1 567.1 712.8 567.9 713.5 568.6 714.2 569.3 714.9 570.0 715.6 570.7 716.3 571.4 717.0 572.1 717.7 572.8 718.4 573.5 719.1 574.2 719.8 574.9 720.6 575.6 721.3 576.3 722.0 577.0 722.7 577.7 723.5 578.4 724.2 579.1 724.9 579.8 725.6 580.4 726.4 581.1 727.1 581.8 727.8 582.5 728.6 583.2 729.3 583.8 730.1 584.5 730.8 585.2 731.5 585.9 732.3 586.5 733.0 587.2 733.8 587.9 734.5 588.5 735.2 589.2 736.0 589.9 736.7 590.6 737.5 591.2 738.2 591.9 739.0 592.6 739.7 593.2 740.4 593.9 741.2 594.6 741.9 595.2 742.7 595.9 743.5 596.5 744.2 597.2 745.0 597.8 745.7 598.5 746.5 599.1 747.3 599.8 748.0 600.4 748.8 601.0 749.6 601.7 750.4 602.3 751.2 602.9 751.9 603.5 752.7 604.1 753.5 604.7 754.3 605.4 755.1 605.9 755.9 606.5 756.7 607.1 757.5 607.7 758.4 608.3 759.2 608.9 760.0 609.4 760.8 610.0 761.6 610.6 762.5 611.1 763.3 611.7 764.1 612.3 765.0 612.8 765.8 613.4 766.6 614.0 767.4 614.5 768.3 615.1 769.1 615.6 769.9 616.2 770.8 616.7 771.6 617.3 772.4 617.9 773.2 618.4 774.1 619.0 774.9 619.6 775.7 620.1 776.5 620.7 777.4 621.3 778.2 621.9 779.0 622.4 779.8 623.0 780.6 623.6 781.4 624.2 782.2 624.8 783.0 625.4 783.8 626.0 784.6 626.6 785.4 627.2 786.2 627.8 787.0 628.4 787.8 629.0 788.6 629.6 789.4 630.2 790.2 630.8 791.0 631.4 791.8 632.0 792.6 632.6 793.4 633.1 794.3 633.7 795.1 634.3 795.9 634.9 796.7 635.5 797.5 636.1 798.3 636.6 799.1 637.2 800.0 637.8 800.8 638.3 801.6 638.9 802.5 639.4 803.3 640.0 804.1 640.5 805.0 641.1 805.8 641.6 806.7 642.1 807.5 642.6 808.4 643.1 809.3 643.6 810.2 644.1 811.0 644.6 811.9 645.1 812.8 645.5 813.7 646.0 814.6 646.4 815.5 646.9 816.4 647.3 817.3 647.7 818.2 648.1 819.1 648.6 820.0 649.0 820.9 649.4 821.9 649.8 822.8 650.1 823.7 650.5 824.6 650.9 825.6 651.3 826.5 651.6 827.4 652.0 828.4 652.3 829.3 652.7 830.2 653.0 831.2 653.3 832.1 653.7 833.1 654.0 834.0 654.3 835.0 654.6 835.9 654.9 836.9 655.2 837.8 655.5 838.8 655.8 839.8 656.1 840.7 656.4 841.7 656.7 842.6 656.9 843.6 657.2 844.6 657.5 845.5 657.7 846.5 658.0 847.5 658.2 848.4 658.5 849.4 658.7 850.4 659.0 851.3 659.2 852.3 659.5 853.3 659.7 854.2 659.9 855.2 660.2 856.2 660.4 857.2 660.6 858.1 660.9 859.1 661.1 860.1 661.3 861.0 661.5 862.0 661.7 862.9 661.9 863.8 662.1 864.2 662.2" stroke="#ff0000" stroke-width="5.3" fill="none" stroke-linecap="round" stroke-linejoin="round" stroke-dasharray="10.5 10.5"/>
<path d="M864.2 663.4L865.2 663.4 866.2 663.4 867.2 663.4 868.2 663.4 869.2 663.4 870.2 663.4 871.2 663.4 872.2 663.4 873.2 663.4 874.2 663.4 875.2 663.4 876.2 663.4 877.2 663.4 878.2 663.4 879.2 663.4 880.2 663.4 881.2 663.4 882.2 663.4 883.2 663.4 884.2 663.4 885.2 663.4 886.2 663.4 887.2 663.4 888.2 663.4 889.2 663.4 890.2 663.3 891.2 663.3 892.2 663.3 893.2 663.2 894.2 663.2 895.2 663.1 896.2 663.1 897.2 663.0 898.2 662.9 899.2 662.8 900.2 662.7 901.2 662.6 902.1 662.4 903.1 662.1 904.0 661.8 904.9 661.4 905.8 661.0 906.6 660.4 907.5 659.9 908.3 659.3 909.0 658.7 909.8 658.0 910.5 657.3 911.1 656.5 911.8 655.8 912.4 655.0 912.9 654.2 913.5 653.3 914.0 652.5 914.5 651.6 915.0 650.7 915.4 649.8 915.8 648.9 916.2 648.0 916.6 647.1 917.0 646.2 917.3 645.2 917.7 644.3 918.0 643.3 918.4 642.4 918.7 641.5 919.0 640.5 919.3 639.6 919.7 638.6 920.0 637.7 920.3 636.7 920.6 635.8 920.9 634.8 921.3 633.9 921.6 633.0 922.0 632.0 922.4 631.1 922.8 630.2 923.2 629.3 923.6 628.3 924.0 627.4 924.5 626.6 925.0 625.7 925.5 624.8 926.0 624.0 926.6 623.2 927.1 622.4 927.8 621.6 928.4 620.8 929.1 620.1 929.8 619.4 930.6 618.8 931.4 618.2 932.2 617.7 933.1 617.2 934.0 616.7 934.9 616.4 935.8 616.0 936.8 615.7 937.7 615.4 938.7 615.2 939.7 615.0 940.7 614.8 941.6 614.7 942.6 614.6 943.6 614.5 944.6 614.4 945.6 614.4 946.6 614.4 947.6 614.4 948.6 614.4 949.6 614.5 950.6 614.5 951.6 614.6 952.6 614.7 953.6 614.8 954.6 614.9 955.6 615.0 956.6 615.2 957.6 615.3 958.6 615.4 959.6 615.6 960.5 615.7 961.5 615.8 962.5 616.0 963.5 616.1 964.5 616.3 965.5 616.4 966.5 616.5 967.5 616.7 968.5 616.8 969.5 616.9 970.4 617.1 971.4 617.2 972.4 617.3 973.4 617.5 974.4 617.6 975.4 617.7 976.4 617.9 977.4 618.0 978.4 618.1 979.4 618.2 980.4 618.4 981.4 618.5 982.3 618.6 983.3 618.7 984.3 618.8 985.3 618.9 986.3 619.0 987.3 619.2 988.3 619.3 989.3 619.4 990.3 619.5 991.3 619.5 992.3 619.6 993.3 619.7 994.3 619.8 995.3 619.9 996.3 620.0 997.3 620.1 998.3 620.1 999.3 620.2 1000.3 620.2 1001.3 620.3 1002.3 620.3 1003.3 620.4 1004.3 620.4 1005.3 620.3 1006.3 620.3 1007.3 620.3 1008.3 620.2 1009.2 620.0 1010.2 619.9 1011.2 619.7 1012.2 619.5 1013.1 619.2 1014.1 618.8 1015.0 618.4 1015.8 618.0 1016.7 617.5 1017.5 616.9 1018.3 616.3 1019.0 615.6 1019.7 614.9 1020.4 614.2 1021.0 613.4 1021.6 612.6 1022.2 611.8 1022.8 611.0 1023.3 610.1 1023.8 609.3 1024.3 608.4 1024.8 607.5 1025.3 606.7 1025.7 605.8 1026.2 604.9 1026.6 604.0 1027.0 603.1 1027.4 602.2 1027.8 601.2 1028.2 600.3 1028.6 599.4 1028.9 598.4 1029.2 597.5 1029.6 596.6 1029.9 595.6 1030.2 594.7 1030.5 593.7 1030.8 592.7 1031.1 591.8 1031.3 590.8 1031.6 589.9 1031.9 588.9 1032.1 587.9 1032.3 586.9 1032.6 586.0 1032.8 585.0 1033.0 584.0 1033.2 583.0 1033.4 582.1 1033.7 581.1 1033.9 580.1 1034.1 579.1 1034.3 578.2 1034.4 577.2 1034.6 576.2 1034.8 575.2 1035.0 574.2 1035.2 573.2 1035.4 572.3 1035.6 571.3 1035.7 570.3 1035.9 569.3 1036.1 568.3 1036.3 567.3 1036.4 566.4 1036.6 565.4 1036.8 564.4 1036.9 563.4 1037.1 562.4 1037.3 561.4 1037.4 560.4 1037.6 559.4 1037.8 558.5 1037.9 557.5 1038.1 556.5 1038.2 555.5 1038.4 554.5 1038.5 553.5 1038.7 552.5 1038.8 551.5 1039.0 550.6 1039.1 549.6 1039.3 548.6 1039.4 547.6 1039.6 546.6 1039.7 545.6 1039.9 544.6 1040.0 543.6 1040.2 542.6 1040.3 541.7 1040.4 540.7 1040.6 539.7 1040.7 538.7 1040.9 537.7 1041.0 536.7 1041.1 535.7 1041.3 534.7 1041.4 533.7 1041.5 532.7 1041.7 531.8 1041.8 530.8 1041.9 529.8 1042.1 528.8 1042.2 527.8 1042.3 526.8 1042.5 525.8 1042.6 524.8 1042.7 523.8 1042.9 522.8 1043.0 521.8 1043.1 520.8 1043.2 519.9 1043.4 518.9 1043.5 517.9 1043.6 516.9 1043.8 515.9 1043.9 514.9 1044.0 513.9 1044.1 512.9 1044.3 511.9 1044.4 510.9 1044.5 509.9 1044.6 508.9 1044.8 507.9 1044.9 507.0 1045.0 506.0 1045.1 505.0 1045.3 504.0 1045.4 503.0 1045.5 502.0 1045.6 501.0 1045.8 500.0 1045.9 499.0 1046.0 498.0 1046.1 497.0 1046.3 496.0 1046.4 495.1 1046.5 494.1 1046.6 493.1 1046.8 492.1 1046.9 491.1 1047.0 490.1 1047.2 489.1 1047.3 488.1 1047.4 487.1 1047.5 486.1 1047.7 485.1 1047.8 484.1 1047.9 483.2 1048.1 482.2 1048.2 481.2 1048.3 480.2 1048.5 479.2 1048.6 478.2 1048.7 477.2 1048.9 476.2 1049.0 475.2 1049.1 474.2 1049.3 473.2 1049.4 472.3 1049.5 471.3 1049.7 470.3 1049.8 469.3 1050.0 468.3 1050.1 467.3 1050.2 466.3 1050.4 465.3 1050.5 464.3 1050.7 463.3 1050.8 462.4 1051.0 461.4 1051.1 460.4 1051.3 459.4 1051.4 458.4 1051.6 457.4 1051.7 456.4 1051.9 455.4 1052.0 454.4 1052.2 453.5 1052.4 452.5 1052.5 451.5 1052.7 450.5 1052.9 449.5 1053.0 448.5 1053.2 447.5 1053.3 446.6 1053.5 445.6 1053.7 444.6 1053.9 443.6 1054.0 442.6 1054.2 441.6 1054.4 440.6 1054.6 439.7 1054.7 438.7 1054.9 437.7 1055.1 436.7 1055.3 435.7 1055.5 434.7 1055.7 433.8 1055.9 432.8 1056.0 431.8 1056.2 430.8 1056.4 429.8 1056.6 428.9 1056.8 427.9 1057.0 426.9 1057.2 425.9 1057.4 424.9 1057.6 424.0 1057.9 423.0 1058.1 422.0 1058.3 421.0 1058.5 420.0 1058.7 419.1 1058.9 418.1 1059.2 417.1 1059.4 416.1 1059.6 415.2 1059.8 414.2 1060.1 413.2 1060.3 412.3 1060.5 411.3 1060.8 410.3 1061.0 409.3 1061.2 408.4 1061.5 407.4 1061.7 406.4 1062.0 405.5 1062.2 404.5 1062.5 403.5 1062.7 402.6 1063.0 401.6 1063.3 400.6 1063.5 399.7 1063.8 398.7 1064.1 397.7 1064.3 396.8 1064.6 395.8 1064.9 394.9 1065.2 393.9 1065.4 392.9 1065.7 392.0 1066.0 391.0 1066.3 390.1 1066.6 389.1 1066.9 388.1 1067.2 387.2 1067.5 386.2 1067.8 385.3 1068.1 384.3 1068.5 383.4 1068.9 382.5 1069.3 381.6 1069.8 380.7 1070.3 379.9 1070.9 379.1 1071.6 378.4 1072.3 377.7 1073.0 377.1 1073.8 376.5 1074.7 376.0 1075.6 375.5 1076.5 375.1 1077.4 374.7 1078.3 374.4 1079.3 374.2 1080.3 373.9 1081.2 373.7 1082.2 373.5 1083.2 373.4 1084.2 373.2 1085.2 373.1 1086.2 372.9 1087.2 372.8 1088.2 372.6 1089.1 372.5 1090.1 372.3 1091.1 372.1 1092.1 371.9 1093.1 371.7 1094.0 371.4 1095.0 371.2 1095.9 370.8 1096.9 370.5 1097.8 370.1 1098.7 369.7 1099.6 369.3 1100.5 368.8 1101.3 368.3 1102.2 367.8 1103.0 367.2 1103.8 366.6 1104.6 366.0 1105.4 365.4 1106.1 364.7 1106.8 364.0 1107.5 363.3 1108.2 362.6 1108.9 361.8 1109.6 361.1 1110.2 360.3 1110.9 359.6 1111.5 358.8 1112.1 358.0 1112.8 357.3 1113.4 356.5 1114.1 355.7 1114.7 355.0 1115.4 354.2 1116.0 353.5 1116.7 352.8 1117.4 352.0 1118.2 351.4 1118.9 350.7 1119.7 350.1 1120.5 349.5 1121.3 348.9 1122.1 348.4 1123.0 347.9 1123.9 347.5 1124.9 347.2 1125.8 347.0 1126.8 346.8 1127.8 346.7 1128.8 346.6 1129.7 346.6 1130.7 346.7 1131.7 346.8 1132.7 347.0 1133.7 347.2 1134.7 347.4 1135.6 347.7 1136.6 348.0 1137.5 348.4 1138.4 348.7 1139.3 349.1 1140.3 349.5 1141.2 350.0 1142.0 350.4 1142.9 350.9 1143.8 351.4 1144.6 351.9 1145.5 352.5 1146.3 353.0 1147.1 353.6 1147.9 354.2 1148.7 354.8 1149.5 355.4 1150.3 356.1 1151.0 356.7 1151.8 357.4 1152.5 358.0 1153.3 358.7 1154.0 359.4 1154.7 360.1 1155.4 360.8 1156.1 361.5 1156.8 362.3 1157.5 363.0 1158.1 363.7 1158.8 364.5 1159.5 365.2 1160.1 366.0 1160.8 366.8 1161.4 367.5 1162.0 368.3 1162.7 369.1 1163.3 369.8 1163.9 370.6 1164.6 371.4 1165.2 372.2 1165.8 373.0 1166.4 373.7 1167.1 374.5 1167.7 375.3 1168.3 376.1 1168.9 376.9 1169.6 377.6 1170.2 378.4 1170.8 379.2 1171.4 380.0 1172.1 380.8 1172.7 381.5 1173.3 382.3 1174.0 383.1 1174.6 383.8 1175.3 384.6 1175.9 385.4 1176.6 386.1 1177.2 386.9 1177.9 387.6 1178.5 388.4 1179.2 389.1 1179.9 389.9 1180.6 390.6 1181.3 391.3 1181.9 392.0 1182.6 392.8 1183.3 393.5 1184.1 394.2 1184.8 394.9 1185.5 395.6 1186.2 396.3 1186.9 396.9 1187.7 397.6 1188.4 398.3 1189.2 398.9 1189.9 399.6 1190.7 400.2 1191.5 400.9 1192.2 401.5 1193.0 402.1 1193.9 402.7 1194.7 403.2 1195.5 403.8 1196.4 404.3 1197.3 404.7 1198.2 405.1 1199.1 405.4 1200.1 405.6 1201.1 405.8 1202.0 405.8 1203.0 405.7 1203.9 405.5 1204.9 405.2 1205.8 404.8 1206.6 404.3 1207.5 403.8 1208.2 403.2 1209.0 402.5 1209.7 401.8 1210.3 401.1 1210.9 400.3 1211.5 399.5 1212.1 398.6 1212.6 397.8 1213.0 396.9 1213.5 396.0 1213.9 395.1 1214.3 394.2 1214.7 393.2 1215.0 392.3 1215.4 391.4 1215.7 390.4 1216.0 389.5 1216.3 388.5 1216.6 387.6 1216.9 386.6 1217.2 385.7 1217.5 384.7 1217.7 383.7 1218.0 382.8 1218.3 381.8 1218.6 380.9 1218.8 379.9 1219.1 378.9 1219.4 378.0 1219.6 377.0 1219.9 376.0 1220.2 375.1 1220.4 374.1 1220.7 373.1 1221.0 372.2 1221.2 371.2 1221.5 370.2 1221.7 369.3 1222.0 368.3 1222.2 367.3 1222.5 366.4 1222.7 365.4 1222.9 364.4 1223.2 363.5 1223.4 362.5 1223.7 361.5 1223.9 360.5 1224.1 359.6 1224.4 358.6 1224.6 357.6 1224.8 356.7 1225.0 355.7 1225.3 354.7 1225.5 353.7 1225.7 352.8 1225.9 351.8 1226.1 350.8 1226.3 349.8 1226.6 348.8 1226.8 347.9 1227.0 346.9 1227.2 345.9 1227.4 344.9 1227.6 344.0 1227.8 343.0 1228.0 342.0 1228.2 341.0 1228.4 340.0 1228.6 339.1 1228.8 338.1 1229.0 337.1 1229.2 336.1 1229.4 335.1 1229.6 334.1 1229.7 333.2 1229.9 332.2 1230.1 331.2 1230.3 330.2 1230.5 329.2 1230.7 328.2 1230.8 327.3 1231.0 326.3 1231.2 325.3 1231.4 324.3 1231.5 323.3 1231.7 322.3 1231.9 321.4 1232.0 320.4 1232.2 319.4 1232.4 318.4 1232.5 317.4 1232.7 316.4 1232.9 315.4 1233.0 314.5 1233.2 313.5 1233.4 312.5 1233.5 311.5 1233.7 310.5 1233.8 309.5 1234.0 308.5 1234.2 307.5 1234.3 306.6 1234.5 305.6 1234.6 304.6 1234.8 303.6 1234.9 302.6 1235.1 301.6 1235.2 300.6 1235.4 299.6 1235.5 298.6 1235.7 297.7 1235.8 296.7 1236.0 295.7 1236.1 294.7 1236.3 293.7 1236.4 292.7 1236.6 291.7 1236.7 290.7 1236.8 289.7 1237.0 288.8 1237.1 287.8 1237.3 286.8 1237.4 285.8 1237.6 284.8 1237.7 283.8 1237.8 282.8 1238.0 281.8 1238.1 280.8 1238.3 279.8 1238.4 278.9 1238.5 277.9 1238.7 276.9 1238.8 275.9 1239.0 274.9 1239.1 273.9 1239.2 272.9 1239.4 271.9 1239.5 270.9 1239.7 269.9 1239.8 269.0 1239.9 268.0 1240.1 267.0 1240.2 266.0 1240.4 265.0 1240.5 264.0 1240.6 263.0 1240.8 262.0 1240.9 261.0 1241.1 260.0 1241.2 259.1 1241.3 258.1 1241.5 257.1 1241.6 256.1 1241.8 255.1 1241.9 254.1 1242.0 253.1 1242.2 252.1 1242.3 251.1 1242.5 250.1 1242.6 249.2 1242.8 248.2 1242.9 247.2 1243.0 246.2 1243.2 245.2 1243.3 244.2 1243.5 243.2 1243.6 242.2 1243.8 241.2 1243.9 240.2 1244.1 239.3 1244.2 238.3 1244.4 237.3 1244.5 236.3 1244.7 235.3 1244.8 234.3 1245.0 233.3 1245.1 232.3 1245.3 231.4 1245.4 230.4 1245.6 229.4 1245.8 228.4 1245.9 227.4 1246.1 226.4 1246.2 225.4 1246.4 224.4 1246.6 223.5 1246.7 222.5 1246.9 221.5 1247.0 220.5 1247.2 219.5 1247.4 218.5 1247.5 217.5 1247.7 216.6 1247.9 215.6 1248.1 214.6 1248.2 213.6 1248.4 212.6 1248.6 211.6 1248.8 210.6 1248.9 209.7 1249.1 208.7 1249.3 207.7 1249.5 206.7 1249.7 205.7 1249.9 204.7 1250.0 203.8 1250.2 202.8 1250.4 201.8 1250.6 200.8 1250.8 199.8 1251.0 198.9 1251.2 197.9 1251.4 196.9 1251.6 195.9 1251.8 194.9 1252.0 193.9 1252.2 193.0 1252.3 192.0 1252.5 191.0 1252.7 190.0 1252.9 189.0 1253.1 188.1 1253.3 187.1 1253.5 186.1 1253.7 185.1 1253.9 184.1 1254.2 183.2 1254.4 182.2 1254.6 181.2 1254.8 180.2 1255.0 179.3 1255.2 178.3 1255.4 177.3 1255.6 176.3 1255.8 175.3 1256.0 174.4 1256.2 173.4 1256.4 172.4 1256.6 171.4 1256.8 170.4 1257.0 169.5 1257.2 168.5 1257.4 167.5 1257.6 166.5 1257.8 165.6 1258.1 164.6 1258.3 163.6 1258.5 162.6 1258.7 161.6 1258.9 160.7 1259.1 159.7 1259.3 158.7 1259.6 157.7 1259.8 156.8 1260.1 155.8 1260.3 154.8 1260.6 153.9 1260.9 152.9 1261.2 152.0 1261.5 151.0 1261.8 150.1 1262.2 149.1 1262.6 148.2 1263.0 147.3 1263.4 146.4 1263.9 145.5 1264.4 144.6 1264.9 143.8 1265.4 142.9 1266.0 142.1 1266.6 141.3 1267.2 140.6 1267.9 139.8 1268.5 139.1 1269.3 138.4 1270.0 137.8 1270.8 137.2 1271.6 136.6 1272.5 136.1 1273.4 135.7 1274.3 135.4 1275.2 135.2 1276.2 135.1 1277.2 135.1 1278.1 135.2 1279.1 135.4 1280.0 135.8 1280.9 136.2 1281.7 136.7 1282.6 137.3 1283.3 137.9 1284.1 138.5 1284.8 139.2 1285.6 139.9 1286.2 140.6 1286.9 141.4 1287.6 142.1 1288.2 142.9 1288.9 143.6 1289.5 144.4 1290.1 145.2 1290.7 146.0 1291.3 146.8 1291.9 147.6 1292.5 148.4 1293.0 149.2 1293.6 150.1 1294.2 150.9 1294.7 151.8 1295.2 152.6 1295.8 153.5 1296.3 154.3 1296.8 155.2 1297.3 156.0 1297.8 156.9 1298.2 157.8 1298.7 158.7 1299.2 159.6 1299.6 160.4 1300.1 161.3 1300.5 162.2 1301.0 163.1 1301.4 164.0 1301.8 164.9 1302.2 165.8 1302.6 166.8 1303.0 167.7 1303.5 168.6 1303.8 169.5 1304.2 170.4 1304.6 171.3 1305.0 172.3 1305.4 173.2 1305.8 174.1 1306.1 175.1 1306.5 176.0 1306.9 176.9 1307.3 177.8 1307.6 178.8 1308.0 179.7 1308.4 180.6 1308.7 181.6 1309.1 182.5 1309.4 183.4 1309.8 184.4 1310.2 185.3 1310.5 186.2 1310.9 187.1 1311.3 188.1 1311.6 189.0 1312.0 189.9 1312.4 190.9 1312.8 191.8 1313.2 192.7 1313.5 193.6 1313.9 194.6 1314.3 195.5 1314.7 196.4 1315.1 197.3 1315.5 198.2 1315.9 199.1 1316.3 200.1 1316.7 201.0 1317.1 201.9 1317.5 202.8 1317.9 203.7 1318.3 204.6 1318.8 205.5 1319.2 206.4 1319.6 207.4 1320.0 208.3 1320.4 209.2 1320.8 210.1 1321.3 211.0 1321.7 211.9 1322.1 212.8 1322.5 213.7 1322.9 214.6 1323.3 215.5 1323.8 216.4 1324.2 217.4 1324.6 218.3 1325.0 219.2 1325.4 220.1 1325.9 221.0 1326.3 221.9 1326.7 222.8 1327.1 223.7 1327.5 224.6 1327.9 225.5 1328.4 226.4 1328.8 227.3 1329.2 228.3 1329.6 229.2 1330.0 230.1 1330.4 231.0 1330.8 231.9 1331.3 232.8 1331.7 233.7 1332.1 234.6 1332.5 235.5 1332.9 236.5 1333.3 237.4 1333.7 238.3 1334.1 239.2 1334.5 240.1 1334.9 241.0 1335.3 241.9 1335.7 242.9 1336.1 243.8 1336.5 244.7 1337.0 245.6 1337.4 246.5 1337.8 247.4 1338.2 248.3 1338.6 249.3 1339.0 250.2 1339.4 251.1 1339.8 252.0 1340.2 252.9 1340.6 253.8 1341.0 254.8 1341.4 255.7 1341.8 256.6 1342.2 257.5 1342.6 258.4 1343.0 259.3 1343.4 260.3 1343.8 261.2 1344.2 262.1 1344.6 263.0 1345.0 263.9 1345.4 264.8 1345.8 265.8 1346.2 266.7 1346.6 267.6 1347.0 268.5 1347.4 269.4 1347.7 270.3 1348.1 271.3 1348.5 272.2 1348.9 273.1 1349.3 274.0 1349.7 274.9 1350.1 275.9 1350.5 276.8 1350.9 277.7 1351.3 278.6 1351.7 279.5 1352.1 280.4 1352.5 281.4 1352.9 282.3 1353.3 283.2 1353.7 284.1 1354.1 285.0 1354.5 285.9 1354.9 286.9 1355.3 287.8 1355.7 288.7 1356.1 289.6 1356.5 290.5 1356.9 291.4 1357.3 292.4 1357.7 293.3 1358.1 294.2 1358.5 295.1 1358.9 296.0 1359.3 296.9 1359.7 297.9 1360.1 298.8 1360.5 299.7 1360.9 300.6 1361.3 301.5 1361.7 302.4 1362.1 303.3 1362.5 304.3 1362.9 305.2 1363.4 306.1 1363.8 307.0 1364.2 307.9 1364.6 308.8 1365.0 309.7 1365.4 310.7 1365.8 311.6 1366.2 312.5 1366.6 313.4 1367.0 314.3 1367.4 315.2 1367.8 316.1 1368.3 317.0 1368.7 318.0 1369.1 318.9 1369.5 319.8 1369.9 320.7 1370.3 321.6 1370.7 322.5 1371.2 323.4 1371.6 324.3 1372.0 325.2 1372.4 326.1 1372.8 327.1 1373.2 328.0 1373.6 328.9 1374.1 329.8 1374.5 330.7 1374.9 331.6 1375.3 332.5 1375.7 333.4 1376.2 334.3 1376.6 335.2 1377.0 336.1 1377.4 337.0 1377.8 337.9 1378.3 338.9 1378.7 339.8 1379.1 340.7 1379.5 341.6 1380.0 342.5 1380.4 343.4 1380.8 344.3 1381.2 345.2 1381.7 346.1 1382.1 347.0 1382.5 347.9 1382.9 348.8 1383.4 349.7 1383.8 350.6 1384.2 351.5 1384.7 352.4 1385.1 353.3 1385.5 354.2 1386.0 355.1 1386.4 356.0 1386.8 356.9 1387.2 357.8 1387.7 358.7 1388.1 359.6 1388.5 360.5 1389.0 361.4 1389.4 362.3 1389.8 363.2 1390.3 364.1 1390.7 365.0 1391.2 365.9 1391.6 366.8 1392.0 367.7 1392.5 368.6 1392.9 369.5 1393.3 370.4 1393.8 371.3 1394.2 372.2 1394.7 373.1 1395.1 374.0 1395.5 374.9 1396.0 375.8 1396.4 376.7 1396.9 377.6 1397.3 378.5 1397.8 379.4 1398.2 380.3 1398.6 381.2 1399.1 382.1 1399.5 383.0 1400.0 383.9 1400.4 384.8 1400.9 385.7 1401.3 386.6 1401.8 387.5 1402.2 388.4 1402.7 389.3 1403.1 390.2 1403.6 391.0 1404.0 391.9 1404.5 392.8 1404.9 393.7 1405.4 394.6 1405.8 395.5 1406.3 396.4 1406.7 397.3 1407.2 398.2 1407.6 399.1 1408.1 400.0 1408.5 400.9 1409.0 401.7 1409.4 402.6 1409.9 403.5 1410.4 404.4 1410.8 405.3 1411.3 406.2 1411.7 407.1 1412.2 408.0 1412.6 408.9 1413.1 409.8 1413.6 410.6 1414.0 411.5 1414.5 412.4 1414.9 413.3 1415.4 414.2 1415.9 415.1 1416.3 416.0 1416.8 416.9 1417.3 417.7 1417.7 418.6 1418.2 419.5 1418.6 420.4 1419.1 421.3 1419.6 422.2 1420.0 423.0 1420.5 423.9 1421.0 424.8 1421.4 425.7 1421.9 426.6 1422.4 427.5 1422.9 428.4 1423.3 429.2 1423.8 430.1 1424.3 431.0 1424.7 431.9 1425.2 432.8 1425.7 433.6 1426.1 434.5 1426.6 435.4 1427.1 436.3 1427.6 437.2 1428.0 438.1 1428.5 438.9 1429.0 439.8 1429.5 440.7 1429.9 441.6 1430.4 442.5 1430.9 443.3 1431.4 444.2 1431.9 445.1 1432.3 446.0 1432.8 446.8 1433.3 447.7 1433.8 448.6 1434.2 449.5 1434.7 450.4 1435.2 451.2 1435.7 452.1 1436.2 453.0 1436.7 453.9 1437.1 454.7 1437.6 455.6 1438.1 456.5 1438.6 457.4 1439.1 458.2 1439.6 459.1 1440.0 460.0 1440.5 460.9 1441.0 461.7 1441.5 462.6 1442.0 463.5 1442.5 464.3 1443.0 465.2 1443.5 466.1 1443.9 467.0 1444.4 467.8 1444.9 468.7 1445.4 469.6 1445.9 470.4 1446.4 471.3 1446.9 472.2 1447.4 473.1 1447.9 473.9 1448.4 474.8 1448.9 475.7 1449.4 476.5 1449.9 477.4 1450.4 478.3 1450.9 479.1 1451.4 480.0 1451.9 480.9 1452.3 481.7 1452.8 482.6 1453.3 483.5 1453.8 484.3 1454.3 485.2 1454.8 486.1 1455.3 486.9 1455.9 487.8 1456.4 488.7 1456.9 489.5 1457.4 490.4 1457.9 491.3 1458.4 492.1 1458.9 493.0 1459.4 493.9 1459.9 494.7 1460.4 495.6 1460.9 496.4 1461.4 497.3 1461.9 498.2 1462.4 499.0 1462.9 499.9 1463.4 500.7 1464.0 501.6 1464.5 502.5 1465.0 503.3 1465.5 504.2 1466.0 505.0 1466.5 505.9 1467.0 506.8 1467.5 507.6 1468.1 508.5 1468.6 509.3 1469.1 510.2 1469.6 511.0 1470.1 511.9 1470.6 512.8 1471.2 513.6 1471.7 514.5 1472.2 515.3 1472.7 516.2 1473.2 517.0 1473.8 517.9 1474.3 518.7 1474.8 519.6 1475.3 520.4 1475.9 521.3 1476.4 522.1 1476.9 523.0 1477.4 523.8 1478.0 524.7 1478.5 525.5 1479.0 526.4 1479.5 527.2 1480.1 528.1 1480.6 528.9 1481.1 529.8 1481.7 530.6 1482.2 531.5 1482.7 532.3 1483.3 533.2 1483.8 534.0 1484.3 534.9 1484.9 535.7 1485.4 536.6 1485.9 537.4 1486.5 538.2 1487.0 539.1 1487.5 539.9 1488.1 540.8 1488.6 541.6 1489.2 542.4 1489.7 543.3 1490.2 544.1 1490.8 545.0 1491.3 545.8 1491.9 546.6 1492.4 547.5 1493.0 548.3 1493.5 549.2 1494.1 550.0 1494.6 550.8 1495.2 551.7 1495.7 552.5 1496.3 553.3 1496.8 554.2 1497.4 555.0 1497.9 555.8 1498.5 556.7 1499.1 557.5 1499.6 558.3 1500.2 559.1 1500.7 560.0 1501.3 560.8 1501.9 561.6 1502.4 562.4 1503.0 563.3 1503.6 564.1 1504.1 564.9 1504.7 565.7 1505.3 566.5 1505.9 567.4 1506.4 568.2 1507.0 569.0 1507.6 569.8 1508.2 570.6 1508.7 571.5 1509.3 572.3 1509.9 573.1 1510.5 573.9 1511.1 574.7 1511.7 575.5 1512.3 576.3 1512.8 577.1 1513.4 577.9 1514.0 578.7 1514.6 579.5 1515.2 580.3 1515.8 581.1 1516.4 581.9 1517.0 582.7 1517.6 583.5 1518.2 584.3 1518.8 585.1 1519.4 585.9 1520.0 586.7 1520.7 587.5 1521.3 588.3 1521.9 589.1 1522.5 589.9 1523.1 590.7 1523.7 591.5 1524.3 592.2 1525.0 593.0 1525.6 593.8 1526.2 594.6 1526.8 595.4 1527.5 596.2 1528.1 596.9 1528.7 597.7 1529.4 598.5 1530.0 599.2 1530.6 600.0 1531.3 600.8 1531.9 601.6 1532.6 602.3 1533.2 603.1 1533.8 603.9 1534.5 604.6 1535.1 605.4 1535.8 606.1 1536.4 606.9 1537.1 607.6 1537.8 608.4 1538.4 609.2 1539.1 609.9 1539.7 610.6 1540.4 611.4 1541.1 612.1 1541.7 612.9 1542.4 613.6 1543.1 614.4 1543.8 615.1 1544.5 615.8 1545.1 616.6 1545.8 617.3 1546.5 618.0 1547.2 618.7 1547.9 619.5 1548.6 620.2 1549.3 620.9 1550.0 621.6 1550.7 622.3 1551.4 623.0 1552.1 623.7 1552.8 624.4 1553.5 625.1 1554.3 625.8 1555.0 626.5 1555.7 627.2 1556.4 627.9 1557.2 628.5 1557.9 629.2 1558.7 629.9 1559.4 630.6 1560.2 631.2 1560.9 631.9 1561.7 632.5 1562.4 633.2 1563.2 633.8 1564.0 634.5 1564.7 635.1 1565.5 635.7 1566.3 636.4 1567.1 637.0 1567.9 637.6 1568.7 638.2 1569.5 638.8 1570.3 639.4 1571.1 640.0 1571.9 640.6 1572.7 641.1 1573.5 641.7 1574.3 642.3 1575.2 642.8 1576.0 643.4 1576.8 644.0 1577.7 644.5 1578.5 645.0 1579.4 645.6 1580.2 646.1 1581.1 646.6 1581.9 647.1 1582.8 647.6 1583.7 648.1 1584.6 648.6 1585.4 649.0 1586.3 649.5 1587.2 649.9 1588.1 650.4 1589.0 650.8 1589.9 651.3 1590.8 651.7 1591.7 652.1 1592.7 652.5 1593.6 652.9 1594.5 653.3 1595.4 653.6 1596.4 654.0 1597.3 654.4 1598.2 654.7 1599.2 655.0 1600.1 655.4 1601.1 655.7 1602.0 656.0 1603.0 656.3 1603.9 656.6 1604.9 656.8 1605.9 657.1 1606.8 657.4 1607.8 657.6 1608.8 657.8 1609.7 658.0 1610.7 658.3 1611.7 658.5 1612.7 658.6 1613.7 658.8 1614.6 659.0 1615.6 659.1 1616.6 659.3 1617.6 659.4 1618.6 659.5 1619.6 659.6 1620.5 659.7 1621.5 659.8 1622.4 659.9" stroke="#0000ff" stroke-width="4.5" fill="none" stroke-linejoin="round"/>
<path d="M864.2 662.2L865.2 662.3 866.2 662.4 867.2 662.4 868.2 662.5 869.2 662.6 870.2 662.7 871.2 662.8 872.2 662.9 873.2 662.9 874.2 663.0 875.2 663.1 876.2 663.2 877.2 663.3 878.2 663.3 879.2 663.4 880.1 663.5 881.1 663.6 882.1 663.6 883.1 663.7 884.1 663.7 885.1 663.8 886.1 663.8 887.1 663.9 888.1 663.9 889.1 664.0 890.1 664.0 891.1 664.0 892.1 664.0 893.1 664.0 894.1 664.0 895.1 664.0 896.1 664.0 897.1 664.0 898.1 663.9 899.1 663.9 900.1 663.9 901.1 663.8 902.1 663.7 903.1 663.7 904.1 663.6 905.1 663.5 906.1 663.4 907.1 663.2 908.1 663.1 909.1 662.9 910.0 662.7 911.0 662.5 911.9 662.1 912.7 661.7 913.5 661.1 914.3 660.5 915.0 659.8 915.7 659.1 916.4 658.4 917.1 657.6 917.7 656.9 918.3 656.1 918.9 655.3 919.5 654.5 920.0 653.6 920.6 652.8 921.1 651.9 921.6 651.0 922.0 650.2 922.5 649.3 922.9 648.4 923.3 647.5 923.8 646.6 924.2 645.6 924.5 644.7 924.9 643.8 925.3 642.9 925.6 641.9 926.0 641.0 926.3 640.1 926.7 639.1 927.0 638.2 927.3 637.2 927.7 636.3 928.0 635.3 928.3 634.4 928.6 633.4 929.0 632.5 929.3 631.6 929.6 630.6 930.0 629.7 930.3 628.7 930.7 627.8 931.0 626.9 931.4 625.9 931.8 625.0 932.2 624.1 932.6 623.2 933.0 622.3 933.5 621.4 933.9 620.5 934.4 619.6 934.9 618.7 935.4 617.9 935.9 617.0 936.4 616.2 937.0 615.3 937.6 614.5 938.2 613.8 938.8 613.0 939.5 612.3 940.2 611.6 941.0 611.0 941.9 610.5 942.7 610.0 943.6 609.5 944.5 609.1 945.4 608.7 946.4 608.4 947.3 608.1 948.3 607.8 949.2 607.6 950.2 607.4 951.2 607.2 952.2 607.1 953.2 607.0 954.2 606.9 955.2 606.9 956.2 606.9 957.2 606.8 958.2 606.8 959.2 606.9 960.2 606.9 961.2 607.0 962.2 607.0 963.2 607.1 964.2 607.2 965.2 607.2 966.2 607.3 967.2 607.4 968.1 607.5 969.1 607.6 970.1 607.7 971.1 607.8 972.1 607.9 973.1 608.0 974.1 608.1 975.1 608.2 976.1 608.3 977.1 608.4 978.1 608.5 979.1 608.6 980.1 608.7 981.1 608.8 982.1 608.9 983.1 608.9 984.1 609.0 985.1 609.0 986.1 609.1 987.1 609.1 988.1 609.2 989.1 609.2 990.1 609.2 991.1 609.2 992.1 609.2 993.1 609.2 994.1 609.2 995.1 609.1 996.1 609.1 997.1 609.0 998.1 608.9 999.1 608.8 1000.0 608.7 1001.0 608.6 1002.0 608.4 1003.0 608.3 1004.0 608.1 1005.0 607.9 1005.9 607.6 1006.9 607.4 1007.9 607.1 1008.8 606.8 1009.7 606.4 1010.6 605.9 1011.4 605.4 1012.2 604.8 1013.0 604.2 1013.7 603.5 1014.5 602.8 1015.2 602.1 1015.9 601.4 1016.6 600.7 1017.2 600.0 1017.9 599.2 1018.5 598.4 1019.1 597.6 1019.7 596.8 1020.3 596.0 1020.8 595.2 1021.4 594.3 1021.9 593.5 1022.4 592.6 1022.9 591.7 1023.4 590.9 1023.8 590.0 1024.2 589.1 1024.7 588.2 1025.1 587.2 1025.4 586.3 1025.8 585.4 1026.2 584.5 1026.5 583.5 1026.8 582.6 1027.2 581.6 1027.5 580.7 1027.8 579.7 1028.1 578.8 1028.3 577.8 1028.6 576.8 1028.8 575.9 1029.1 574.9 1029.3 573.9 1029.6 573.0 1029.8 572.0 1030.0 571.0 1030.2 570.0 1030.4 569.1 1030.6 568.1 1030.8 567.1 1031.0 566.1 1031.2 565.1 1031.3 564.1 1031.5 563.2 1031.7 562.2 1031.9 561.2 1032.0 560.2 1032.2 559.2 1032.4 558.2 1032.5 557.2 1032.7 556.3 1032.9 555.3 1033.0 554.3 1033.2 553.3 1033.3 552.3 1033.5 551.3 1033.6 550.3 1033.8 549.3 1033.9 548.4 1034.1 547.4 1034.2 546.4 1034.4 545.4 1034.5 544.4 1034.7 543.4 1034.8 542.4 1035.0 541.4 1035.1 540.4 1035.3 539.5 1035.4 538.5 1035.5 537.5 1035.7 536.5 1035.8 535.5 1036.0 534.5 1036.1 533.5 1036.2 532.5 1036.4 531.5 1036.5 530.5 1036.6 529.6 1036.8 528.6 1036.9 527.6 1037.0 526.6 1037.2 525.6 1037.3 524.6 1037.4 523.6 1037.6 522.6 1037.7 521.6 1037.8 520.6 1038.0 519.6 1038.1 518.6 1038.2 517.7 1038.4 516.7 1038.5 515.7 1038.6 514.7 1038.8 513.7 1038.9 512.7 1039.0 511.7 1039.2 510.7 1039.3 509.7 1039.4 508.7 1039.5 507.7 1039.7 506.8 1039.8 505.8 1039.9 504.8 1040.1 503.8 1040.2 502.8 1040.4 501.8 1040.5 500.8 1040.6 499.8 1040.8 498.8 1040.9 497.8 1041.0 496.8 1041.2 495.9 1041.3 494.9 1041.4 493.9 1041.6 492.9 1041.7 491.9 1041.9 490.9 1042.0 489.9 1042.2 488.9 1042.3 487.9 1042.4 486.9 1042.6 486.0 1042.7 485.0 1042.9 484.0 1043.0 483.0 1043.2 482.0 1043.3 481.0 1043.5 480.0 1043.6 479.0 1043.8 478.0 1043.9 477.1 1044.1 476.1 1044.2 475.1 1044.4 474.1 1044.5 473.1 1044.7 472.1 1044.8 471.1 1045.0 470.1 1045.2 469.2 1045.3 468.2 1045.5 467.2 1045.6 466.2 1045.8 465.2 1045.9 464.2 1046.1 463.2 1046.3 462.2 1046.4 461.3 1046.6 460.3 1046.8 459.3 1046.9 458.3 1047.1 457.3 1047.3 456.3 1047.4 455.3 1047.6 454.4 1047.8 453.4 1048.0 452.4 1048.1 451.4 1048.3 450.4 1048.5 449.4 1048.7 448.4 1048.8 447.5 1049.0 446.5 1049.2 445.5 1049.4 444.5 1049.6 443.5 1049.7 442.5 1049.9 441.6 1050.1 440.6 1050.3 439.6 1050.5 438.6 1050.7 437.6 1050.9 436.7 1051.1 435.7 1051.3 434.7 1051.5 433.7 1051.7 432.7 1051.9 431.8 1052.1 430.8 1052.4 429.8 1052.6 428.8 1052.8 427.9 1053.1 426.9 1053.3 425.9 1053.6 425.0 1053.8 424.0 1054.1 423.0 1054.4 422.1 1054.6 421.1 1054.9 420.2 1055.2 419.2 1055.5 418.2 1055.8 417.3 1056.2 416.3 1056.5 415.4 1056.8 414.5 1057.2 413.5 1057.5 412.6 1057.9 411.7 1058.3 410.7 1058.7 409.8 1059.1 408.9 1059.5 408.0 1059.9 407.1 1060.3 406.2 1060.8 405.3 1061.3 404.5 1061.9 403.7 1062.5 402.9 1063.2 402.2 1063.9 401.5 1064.7 400.9 1065.6 400.4 1066.4 399.9 1067.3 399.5 1068.2 399.1 1069.2 398.8 1070.2 398.6 1071.1 398.4 1072.1 398.2 1073.1 398.1 1074.1 398.0 1075.1 397.9 1076.1 397.8 1077.1 397.7 1078.1 397.6 1079.1 397.6 1080.1 397.5 1081.1 397.4 1082.1 397.3 1083.1 397.2 1084.0 397.0 1085.0 396.8 1086.0 396.6 1087.0 396.4 1087.9 396.1 1088.9 395.8 1089.8 395.4 1090.7 395.1 1091.6 394.6 1092.5 394.2 1093.4 393.7 1094.3 393.2 1095.1 392.6 1095.9 392.1 1096.7 391.5 1097.5 390.9 1098.3 390.2 1099.0 389.6 1099.8 388.9 1100.5 388.2 1101.2 387.6 1102.0 386.9 1102.7 386.2 1103.4 385.4 1104.1 384.7 1104.8 384.0 1105.5 383.3 1106.2 382.6 1106.9 381.9 1107.6 381.2 1108.3 380.4 1109.0 379.7 1109.7 379.0 1110.4 378.4 1111.2 377.7 1111.9 377.0 1112.7 376.4 1113.4 375.7 1114.2 375.1 1115.0 374.5 1115.8 373.9 1116.7 373.4 1117.5 372.9 1118.4 372.4 1119.3 371.9 1120.2 371.5 1121.1 371.2 1122.1 370.9 1123.0 370.6 1124.0 370.4 1125.0 370.2 1126.0 370.1 1127.0 370.1 1127.9 370.1 1128.9 370.1 1129.9 370.2 1130.9 370.3 1131.9 370.4 1132.9 370.6 1133.9 370.8 1134.8 371.0 1135.8 371.3 1136.8 371.6 1137.7 371.9 1138.6 372.3 1139.6 372.7 1140.5 373.1 1141.4 373.5 1142.3 373.9 1143.2 374.4 1144.0 374.9 1144.9 375.4 1145.8 375.9 1146.6 376.4 1147.4 377.0 1148.3 377.5 1149.1 378.1 1149.9 378.7 1150.7 379.3 1151.5 379.9 1152.2 380.6 1153.0 381.2 1153.8 381.8 1154.5 382.5 1155.3 383.2 1156.0 383.9 1156.7 384.5 1157.4 385.2 1158.2 385.9 1158.9 386.6 1159.6 387.3 1160.3 388.1 1161.0 388.8 1161.7 389.5 1162.4 390.2 1163.0 390.9 1163.7 391.7 1164.4 392.4 1165.1 393.1 1165.8 393.8 1166.5 394.5 1167.2 395.3 1167.9 396.0 1168.6 396.7 1169.3 397.4 1170.0 398.1 1170.8 398.8 1171.5 399.5 1172.2 400.1 1173.0 400.8 1173.7 401.5 1174.5 402.1 1175.3 402.7 1176.0 403.4 1176.8 404.0 1177.6 404.5 1178.5 405.1 1179.3 405.7 1180.2 406.2 1181.0 406.7 1181.9 407.2 1182.8 407.6 1183.7 408.0 1184.6 408.4 1185.5 408.8 1186.5 409.1 1187.4 409.5 1188.4 409.7 1189.3 410.0 1190.3 410.1 1191.3 410.3 1192.2 410.3 1193.1 410.3 1193.9 410.0 1194.7 409.6 1195.3 409.0 1195.8 408.2 1196.3 407.4 1196.8 406.5 1197.3 405.6 1197.7 404.7 1198.2 403.9 1198.6 403.0 1199.1 402.1 1199.5 401.2 1199.9 400.3 1200.4 399.3 1200.8 398.4 1201.2 397.5 1201.6 396.6 1202.0 395.7 1202.4 394.8 1202.7 393.8 1203.1 392.9 1203.5 392.0 1203.8 391.0 1204.2 390.1 1204.5 389.2 1204.9 388.2 1205.2 387.3 1205.5 386.3 1205.9 385.4 1206.2 384.5 1206.5 383.5 1206.8 382.6 1207.1 381.6 1207.4 380.6 1207.7 379.7 1208.0 378.7 1208.3 377.8 1208.5 376.8 1208.8 375.8 1209.1 374.9 1209.3 373.9 1209.6 373.0 1209.9 372.0 1210.1 371.0 1210.4 370.0 1210.6 369.1 1210.8 368.1 1211.1 367.1 1211.3 366.2 1211.5 365.2 1211.7 364.2 1212.0 363.2 1212.2 362.3 1212.4 361.3 1212.6 360.3 1212.8 359.3 1213.0 358.3 1213.2 357.4 1213.4 356.4 1213.6 355.4 1213.8 354.4 1214.0 353.4 1214.1 352.5 1214.3 351.5 1214.5 350.5 1214.7 349.5 1214.9 348.5 1215.0 347.5 1215.2 346.6 1215.4 345.6 1215.5 344.6 1215.7 343.6 1215.9 342.6 1216.0 341.6 1216.2 340.6 1216.4 339.6 1216.5 338.7 1216.7 337.7 1216.8 336.7 1217.0 335.7 1217.1 334.7 1217.3 333.7 1217.4 332.7 1217.6 331.7 1217.7 330.8 1217.9 329.8 1218.0 328.8 1218.2 327.8 1218.3 326.8 1218.5 325.8 1218.6 324.8 1218.8 323.8 1218.9 322.8 1219.1 321.9 1219.2 320.9 1219.3 319.9 1219.5 318.9 1219.6 317.9 1219.8 316.9 1219.9 315.9 1220.1 314.9 1220.2 313.9 1220.3 312.9 1220.5 312.0 1220.6 311.0 1220.7 310.0 1220.9 309.0 1221.0 308.0 1221.2 307.0 1221.3 306.0 1221.4 305.0 1221.6 304.0 1221.7 303.0 1221.8 302.0 1222.0 301.1 1222.1 300.1 1222.2 299.1 1222.4 298.1 1222.5 297.1 1222.6 296.1 1222.8 295.1 1222.9 294.1 1223.0 293.1 1223.1 292.1 1223.3 291.1 1223.4 290.1 1223.5 289.2 1223.7 288.2 1223.8 287.2 1223.9 286.2 1224.0 285.2 1224.2 284.2 1224.3 283.2 1224.4 282.2 1224.6 281.2 1224.7 280.2 1224.8 279.2 1224.9 278.2 1225.1 277.3 1225.2 276.3 1225.3 275.3 1225.4 274.3 1225.6 273.3 1225.7 272.3 1225.8 271.3 1225.9 270.3 1226.1 269.3 1226.2 268.3 1226.3 267.3 1226.4 266.3 1226.6 265.3 1226.7 264.4 1226.8 263.4 1226.9 262.4 1227.1 261.4 1227.2 260.4 1227.3 259.4 1227.4 258.4 1227.6 257.4 1227.7 256.4 1227.8 255.4 1227.9 254.4 1228.1 253.4 1228.2 252.4 1228.3 251.5 1228.4 250.5 1228.6 249.5 1228.7 248.5 1228.8 247.5 1228.9 246.5 1229.1 245.5 1229.2 244.5 1229.3 243.5 1229.4 242.5 1229.6 241.5 1229.7 240.5 1229.8 239.6 1229.9 238.6 1230.1 237.6 1230.2 236.6 1230.3 235.6 1230.4 234.6 1230.6 233.6 1230.7 232.6 1230.8 231.6 1231.0 230.6 1231.1 229.6 1231.2 228.6 1231.3 227.6 1231.5 226.7 1231.6 225.7 1231.7 224.7 1231.8 223.7 1232.0 222.7 1232.1 221.7 1232.2 220.7 1232.4 219.7 1232.5 218.7 1232.6 217.7 1232.8 216.7 1232.9 215.7 1233.0 214.8 1233.1 213.8 1233.3 212.8 1233.4 211.8 1233.5 210.8 1233.7 209.8 1233.8 208.8 1233.9 207.8 1234.1 206.8 1234.2 205.8 1234.3 204.8 1234.5 203.9 1234.6 202.9 1234.7 201.9 1234.9 200.9 1235.0 199.9 1235.1 198.9 1235.3 197.9 1235.4 196.9 1235.5 195.9 1235.7 194.9 1235.8 193.9 1235.9 193.0 1236.1 192.0 1236.2 191.0 1236.4 190.0 1236.5 189.0 1236.6 188.0 1236.8 187.0 1236.9 186.0 1237.1 185.0 1237.2 184.0 1237.3 183.1 1237.5 182.1 1237.6 181.1 1237.8 180.1 1237.9 179.1 1238.0 178.1 1238.2 177.1 1238.3 176.1 1238.5 175.1 1238.6 174.1 1238.8 173.2 1238.9 172.2 1239.1 171.2 1239.2 170.2 1239.3 169.2 1239.5 168.2 1239.6 167.2 1239.8 166.2 1239.9 165.2 1240.1 164.3 1240.2 163.3 1240.4 162.3 1240.5 161.3 1240.7 160.3 1240.8 159.3 1241.0 158.3 1241.1 157.3 1241.3 156.3 1241.4 155.4 1241.6 154.4 1241.8 153.4 1241.9 152.4 1242.1 151.4 1242.2 150.4 1242.4 149.4 1242.5 148.4 1242.7 147.5 1242.9 146.5 1243.0 145.5 1243.2 144.5 1243.4 143.5 1243.5 142.5 1243.7 141.5 1243.9 140.6 1244.1 139.6 1244.2 138.6 1244.4 137.6 1244.6 136.6 1244.8 135.6 1245.0 134.7 1245.2 133.7 1245.4 132.7 1245.6 131.7 1245.8 130.7 1246.0 129.8 1246.3 128.8 1246.5 127.8 1246.7 126.8 1246.9 125.9 1247.2 124.9 1247.4 123.9 1247.7 123.0 1247.9 122.0 1248.2 121.0 1248.4 120.1 1248.7 119.1 1249.0 118.1 1249.3 117.2 1249.6 116.2 1249.9 115.3 1250.3 114.4 1250.6 113.4 1251.0 112.5 1251.4 111.6 1251.9 110.7 1252.3 109.8 1252.8 109.0 1253.4 108.1 1254.0 107.3 1254.6 106.6 1255.4 105.9 1256.1 105.3 1257.0 104.8 1257.9 104.5 1258.8 104.2 1259.7 104.0 1260.7 104.0 1261.7 104.0 1262.7 104.2 1263.6 104.4 1264.6 104.7 1265.5 105.0 1266.4 105.5 1267.3 105.9 1268.1 106.5 1268.9 107.0 1269.7 107.6 1270.5 108.3 1271.2 109.0 1271.9 109.7 1272.6 110.4 1273.2 111.2 1273.8 112.0 1274.4 112.8 1275.0 113.6 1275.5 114.4 1276.0 115.3 1276.5 116.2 1277.0 117.1 1277.4 117.9 1277.9 118.8 1278.3 119.7 1278.7 120.6 1279.1 121.6 1279.5 122.5 1279.9 123.4 1280.3 124.3 1280.7 125.2 1281.1 126.1 1281.5 127.0 1281.9 128.0 1282.3 128.9 1282.7 129.8 1283.1 130.7 1283.5 131.6 1283.9 132.6 1284.3 133.5 1284.7 134.4 1285.1 135.3 1285.5 136.2 1285.9 137.2 1286.3 138.1 1286.7 139.0 1287.1 139.9 1287.5 140.8 1287.9 141.7 1288.2 142.7 1288.6 143.6 1289.0 144.5 1289.4 145.4 1289.8 146.3 1290.2 147.3 1290.6 148.2 1291.0 149.1 1291.4 150.0 1291.8 151.0 1292.2 151.9 1292.5 152.8 1292.9 153.7 1293.3 154.6 1293.7 155.6 1294.1 156.5 1294.5 157.4 1294.9 158.3 1295.3 159.2 1295.7 160.2 1296.0 161.1 1296.4 162.0 1296.8 162.9 1297.2 163.9 1297.6 164.8 1298.0 165.7 1298.4 166.6 1298.7 167.5 1299.1 168.5 1299.5 169.4 1299.9 170.3 1300.3 171.2 1300.7 172.2 1301.1 173.1 1301.4 174.0 1301.8 174.9 1302.2 175.9 1302.6 176.8 1303.0 177.7 1303.4 178.6 1303.7 179.5 1304.1 180.5 1304.5 181.4 1304.9 182.3 1305.3 183.2 1305.7 184.2 1306.0 185.1 1306.4 186.0 1306.8 186.9 1307.2 187.9 1307.6 188.8 1308.0 189.7 1308.3 190.6 1308.7 191.6 1309.1 192.5 1309.5 193.4 1309.9 194.3 1310.2 195.3 1310.6 196.2 1311.0 197.1 1311.4 198.0 1311.8 199.0 1312.1 199.9 1312.5 200.8 1312.9 201.7 1313.3 202.7 1313.7 203.6 1314.0 204.5 1314.4 205.4 1314.8 206.4 1315.2 207.3 1315.6 208.2 1315.9 209.1 1316.3 210.1 1316.7 211.0 1317.1 211.9 1317.4 212.8 1317.8 213.8 1318.2 214.7 1318.6 215.6 1319.0 216.5 1319.3 217.5 1319.7 218.4 1320.1 219.3 1320.5 220.2 1320.8 221.2 1321.2 222.1 1321.6 223.0 1322.0 223.9 1322.4 224.9 1322.7 225.8 1323.1 226.7 1323.5 227.7 1323.9 228.6 1324.2 229.5 1324.6 230.4 1325.0 231.4 1325.4 232.3 1325.8 233.2 1326.1 234.1 1326.5 235.1 1326.9 236.0 1327.3 236.9 1327.6 237.8 1328.0 238.8 1328.4 239.7 1328.8 240.6 1329.2 241.5 1329.5 242.5 1329.9 243.4 1330.3 244.3 1330.7 245.2 1331.0 246.2 1331.4 247.1 1331.8 248.0 1332.2 248.9 1332.6 249.9 1332.9 250.8 1333.3 251.7 1333.7 252.6 1334.1 253.6 1334.5 254.5 1334.8 255.4 1335.2 256.3 1335.6 257.3 1336.0 258.2 1336.4 259.1 1336.8 260.0 1337.1 261.0 1337.5 261.9 1337.9 262.8 1338.3 263.7 1338.7 264.7 1339.0 265.6 1339.4 266.5 1339.8 267.4 1340.2 268.4 1340.6 269.3 1341.0 270.2 1341.4 271.1 1341.7 272.0 1342.1 273.0 1342.5 273.9 1342.9 274.8 1343.3 275.7 1343.7 276.7 1344.1 277.6 1344.5 278.5 1344.8 279.4 1345.2 280.3 1345.6 281.3 1346.0 282.2 1346.4 283.1 1346.8 284.0 1347.2 284.9 1347.6 285.9 1348.0 286.8 1348.4 287.7 1348.8 288.6 1349.2 289.5 1349.6 290.5 1350.0 291.4 1350.3 292.3 1350.7 293.2 1351.1 294.1 1351.5 295.0 1351.9 296.0 1352.3 296.9 1352.7 297.8 1353.1 298.7 1353.5 299.6 1353.9 300.5 1354.3 301.5 1354.7 302.4 1355.2 303.3 1355.6 304.2 1356.0 305.1 1356.4 306.0 1356.8 306.9 1357.2 307.9 1357.6 308.8 1358.0 309.7 1358.4 310.6 1358.8 311.5 1359.2 312.4 1359.6 313.3 1360.0 314.2 1360.5 315.2 1360.9 316.1 1361.3 317.0 1361.7 317.9 1362.1 318.8 1362.5 319.7 1362.9 320.6 1363.3 321.5 1363.8 322.4 1364.2 323.4 1364.6 324.3 1365.0 325.2 1365.4 326.1 1365.8 327.0 1366.2 327.9 1366.7 328.8 1367.1 329.7 1367.5 330.6 1367.9 331.5 1368.3 332.4 1368.8 333.4 1369.2 334.3 1369.6 335.2 1370.0 336.1 1370.4 337.0 1370.8 337.9 1371.3 338.8 1371.7 339.7 1372.1 340.6 1372.5 341.5 1372.9 342.4 1373.4 343.3 1373.8 344.3 1374.2 345.2 1374.6 346.1 1375.0 347.0 1375.5 347.9 1375.9 348.8 1376.3 349.7 1376.7 350.6 1377.1 351.5 1377.6 352.4 1378.0 353.3 1378.4 354.2 1378.8 355.1 1379.2 356.1 1379.7 357.0 1380.1 357.9 1380.5 358.8 1380.9 359.7 1381.3 360.6 1381.7 361.5 1382.2 362.4 1382.6 363.3 1383.0 364.2 1383.4 365.1 1383.8 366.0 1384.2 367.0 1384.7 367.9 1385.1 368.8 1385.5 369.7 1385.9 370.6 1386.3 371.5 1386.7 372.4 1387.2 373.3 1387.6 374.2 1388.0 375.1 1388.4 376.0 1388.8 377.0 1389.2 377.9 1389.7 378.8 1390.1 379.7 1390.5 380.6 1390.9 381.5 1391.3 382.4 1391.7 383.3 1392.2 384.2 1392.6 385.1 1393.0 386.0 1393.4 387.0 1393.8 387.9 1394.3 388.8 1394.7 389.7 1395.1 390.6 1395.5 391.5 1395.9 392.4 1396.3 393.3 1396.8 394.2 1397.2 395.1 1397.6 396.0 1398.0 396.9 1398.4 397.8 1398.9 398.8 1399.3 399.7 1399.7 400.6 1400.1 401.5 1400.6 402.4 1401.0 403.3 1401.4 404.2 1401.8 405.1 1402.2 406.0 1402.7 406.9 1403.1 407.8 1403.5 408.7 1403.9 409.6 1404.4 410.5 1404.8 411.4 1405.2 412.3 1405.7 413.2 1406.1 414.1 1406.5 415.1 1406.9 416.0 1407.4 416.9 1407.8 417.8 1408.2 418.7 1408.7 419.6 1409.1 420.5 1409.5 421.4 1410.0 422.3 1410.4 423.2 1410.8 424.1 1411.3 425.0 1411.7 425.9 1412.1 426.8 1412.6 427.7 1413.0 428.6 1413.5 429.5 1413.9 430.4 1414.3 431.3 1414.8 432.2 1415.2 433.1 1415.7 433.9 1416.1 434.8 1416.6 435.7 1417.0 436.6 1417.4 437.5 1417.9 438.4 1418.3 439.3 1418.8 440.2 1419.2 441.1 1419.7 442.0 1420.2 442.9 1420.6 443.8 1421.1 444.7 1421.5 445.6 1422.0 446.4 1422.4 447.3 1422.9 448.2 1423.3 449.1 1423.8 450.0 1424.3 450.9 1424.7 451.8 1425.2 452.7 1425.7 453.5 1426.1 454.4 1426.6 455.3 1427.1 456.2 1427.5 457.1 1428.0 458.0 1428.5 458.8 1429.0 459.7 1429.4 460.6 1429.9 461.5 1430.4 462.4 1430.9 463.2 1431.3 464.1 1431.8 465.0 1432.3 465.9 1432.8 466.7 1433.3 467.6 1433.8 468.5 1434.2 469.4 1434.7 470.2 1435.2 471.1 1435.7 472.0 1436.2 472.9 1436.7 473.7 1437.2 474.6 1437.7 475.5 1438.2 476.3 1438.7 477.2 1439.2 478.1 1439.7 478.9 1440.2 479.8 1440.7 480.6 1441.2 481.5 1441.7 482.4 1442.2 483.2 1442.7 484.1 1443.3 484.9 1443.8 485.8 1444.3 486.7 1444.8 487.5 1445.3 488.4 1445.8 489.2 1446.4 490.1 1446.9 490.9 1447.4 491.8 1447.9 492.6 1448.5 493.5 1449.0 494.3 1449.5 495.2 1450.1 496.0 1450.6 496.9 1451.1 497.7 1451.7 498.6 1452.2 499.4 1452.7 500.3 1453.3 501.1 1453.8 501.9 1454.3 502.8 1454.9 503.6 1455.4 504.5 1456.0 505.3 1456.5 506.2 1457.0 507.0 1457.6 507.8 1458.1 508.7 1458.7 509.5 1459.2 510.3 1459.8 511.2 1460.3 512.0 1460.9 512.9 1461.4 513.7 1462.0 514.5 1462.5 515.4 1463.1 516.2 1463.6 517.0 1464.2 517.9 1464.7 518.7 1465.3 519.5 1465.8 520.4 1466.4 521.2 1466.9 522.0 1467.5 522.9 1468.0 523.7 1468.6 524.5 1469.1 525.4 1469.7 526.2 1470.2 527.0 1470.8 527.9 1471.3 528.7 1471.9 529.5 1472.4 530.4 1473.0 531.2 1473.5 532.1 1474.1 532.9 1474.6 533.7 1475.2 534.6 1475.7 535.4 1476.3 536.2 1476.8 537.1 1477.4 537.9 1477.9 538.7 1478.5 539.6 1479.1 540.4 1479.6 541.2 1480.2 542.1 1480.7 542.9 1481.3 543.7 1481.8 544.6 1482.4 545.4 1482.9 546.2 1483.5 547.1 1484.0 547.9 1484.6 548.7 1485.1 549.6 1485.7 550.4 1486.2 551.2 1486.8 552.1 1487.3 552.9 1487.9 553.7 1488.4 554.6 1489.0 555.4 1489.5 556.2 1490.1 557.1 1490.7 557.9 1491.2 558.7 1491.8 559.5 1492.3 560.4 1492.9 561.2 1493.5 562.0 1494.0 562.9 1494.6 563.7 1495.2 564.5 1495.7 565.3 1496.3 566.2 1496.9 567.0 1497.4 567.8 1498.0 568.6 1498.6 569.4 1499.1 570.3 1499.7 571.1 1500.3 571.9 1500.9 572.7 1501.4 573.5 1502.0 574.4 1502.6 575.2 1503.2 576.0 1503.8 576.8 1504.3 577.6 1504.9 578.4 1505.5 579.2 1506.1 580.0 1506.7 580.8 1507.3 581.6 1507.9 582.4 1508.5 583.2 1509.1 584.0 1509.7 584.8 1510.3 585.6 1510.9 586.4 1511.5 587.2 1512.1 588.0 1512.7 588.8 1513.3 589.6 1514.0 590.4 1514.6 591.2 1515.2 592.0 1515.8 592.8 1516.4 593.5 1517.1 594.3 1517.7 595.1 1518.3 595.9 1518.9 596.7 1519.6 597.4 1520.2 598.2 1520.9 599.0 1521.5 599.7 1522.1 600.5 1522.8 601.3 1523.4 602.0 1524.1 602.8 1524.7 603.5 1525.4 604.3 1526.1 605.0 1526.7 605.8 1527.4 606.5 1528.0 607.3 1528.7 608.0 1529.4 608.8 1530.1 609.5 1530.7 610.2 1531.4 611.0 1532.1 611.7 1532.8 612.4 1533.5 613.2 1534.2 613.9 1534.9 614.6 1535.6 615.3 1536.3 616.0 1537.0 616.7 1537.7 617.5 1538.4 618.2 1539.1 618.9 1539.8 619.6 1540.5 620.3 1541.2 620.9 1542.0 621.6 1542.7 622.3 1543.4 623.0 1544.2 623.7 1544.9 624.4 1545.6 625.0 1546.4 625.7 1547.1 626.4 1547.9 627.0 1548.6 627.7 1549.4 628.3 1550.2 629.0 1550.9 629.6 1551.7 630.3 1552.5 630.9 1553.2 631.5 1554.0 632.2 1554.8 632.8 1555.6 633.4 1556.4 634.0 1557.2 634.6 1558.0 635.2 1558.8 635.8 1559.6 636.4 1560.4 637.0 1561.2 637.6 1562.0 638.2 1562.8 638.8 1563.6 639.3 1564.5 639.9 1565.3 640.5 1566.1 641.0 1567.0 641.6 1567.8 642.1 1568.6 642.6 1569.5 643.2 1570.3 643.7 1571.2 644.2 1572.0 644.7 1572.9 645.2 1573.8 645.7 1574.6 646.2 1575.5 646.7 1576.4 647.2 1577.3 647.7 1578.1 648.2 1579.0 648.6 1579.9 649.1 1580.8 649.5 1581.7 650.0 1582.6 650.4 1583.5 650.8 1584.4 651.2 1585.3 651.7 1586.2 652.1 1587.2 652.5 1588.1 652.9 1589.0 653.2 1589.9 653.6 1590.9 654.0 1591.8 654.4 1592.7 654.7 1593.7 655.1 1594.6 655.4 1595.6 655.7 1596.5 656.0 1597.4 656.4 1598.4 656.7 1599.4 657.0 1600.3 657.2 1601.3 657.5 1602.2 657.8 1603.2 658.1 1604.2 658.3 1605.1 658.6 1606.1 658.8 1607.1 659.0 1608.1 659.3 1609.0 659.5 1610.0 659.7 1611.0 659.9 1612.0 660.1 1613.0 660.2 1613.9 660.4 1614.9 660.6 1615.9 660.7 1616.9 660.9 1617.9 661.0 1618.9 661.1 1619.8 661.2 1620.7 661.3 1621.6 661.4 1622.4 661.5" stroke="#ff0000" stroke-width="5.3" fill="none" stroke-linecap="round" stroke-linejoin="round" stroke-dasharray="14 14.5"/>
<path d="M554.2 96.2H631.6" stroke="#0000ff" stroke-width="4"/>
<path d="M554.5 138.3H627" stroke="#ff0000" stroke-width="5" stroke-linecap="round" stroke-dasharray="8.2 7.8"/>
<text x="638.6" y="107.3" font-size="28.6" font-family="Liberation Sans, Arial, sans-serif" stroke="#000" stroke-width="0.5">Analytical</text>
<text x="638.6" y="148.7" font-size="28.6" font-family="Liberation Sans, Arial, sans-serif" stroke="#000" stroke-width="0.5">Experiment</text>
<text x="100.6" y="671.50" font-size="26" text-anchor="end" font-family="Liberation Sans, Arial, sans-serif" stroke="#000" stroke-width="0.4">0.0</text>
<text x="100.6" y="550.72" font-size="26" text-anchor="end" font-family="Liberation Sans, Arial, sans-serif" stroke="#000" stroke-width="0.4">0.5</text>
<text x="100.6" y="427.64" font-size="26" text-anchor="end" font-family="Liberation Sans, Arial, sans-serif" stroke="#000" stroke-width="0.4">1.0</text>
<text x="100.6" y="304.56" font-size="26" text-anchor="end" font-family="Liberation Sans, Arial, sans-serif" stroke="#000" stroke-width="0.4">1.5</text>
<text x="100.6" y="181.48" font-size="26" text-anchor="end" font-family="Liberation Sans, Arial, sans-serif" stroke="#000" stroke-width="0.4">2.0</text>
<text x="100.6" y="58.40" font-size="26" text-anchor="end" font-family="Liberation Sans, Arial, sans-serif" stroke="#000" stroke-width="0.4">2.5</text>
<text x="106.80" y="693.6" font-size="26" text-anchor="middle" font-family="Liberation Sans, Arial, sans-serif" stroke="#000" stroke-width="0.4">0</text>
<text x="231.80" y="693.6" font-size="26" text-anchor="middle" font-family="Liberation Sans, Arial, sans-serif" stroke="#000" stroke-width="0.4">200</text>
<text x="358.30" y="693.6" font-size="26" text-anchor="middle" font-family="Liberation Sans, Arial, sans-serif" stroke="#000" stroke-width="0.4">400</text>
<text x="484.80" y="693.6" font-size="26" text-anchor="middle" font-family="Liberation Sans, Arial, sans-serif" stroke="#000" stroke-width="0.4">600</text>
<text x="611.30" y="693.6" font-size="26" text-anchor="middle" font-family="Liberation Sans, Arial, sans-serif" stroke="#000" stroke-width="0.4">800</text>
<text x="737.80" y="693.6" font-size="26" text-anchor="middle" font-family="Liberation Sans, Arial, sans-serif" stroke="#000" stroke-width="0.4">1000</text>
<text x="990.65" y="693.6" font-size="26" text-anchor="middle" font-family="Liberation Sans, Arial, sans-serif" stroke="#000" stroke-width="0.4">200</text>
<text x="1117.00" y="693.6" font-size="26" text-anchor="middle" font-family="Liberation Sans, Arial, sans-serif" stroke="#000" stroke-width="0.4">400</text>
<text x="1243.35" y="693.6" font-size="26" text-anchor="middle" font-family="Liberation Sans, Arial, sans-serif" stroke="#000" stroke-width="0.4">600</text>
<text x="1369.70" y="693.6" font-size="26" text-anchor="middle" font-family="Liberation Sans, Arial, sans-serif" stroke="#000" stroke-width="0.4">800</text>
<text x="1496.05" y="693.6" font-size="26" text-anchor="middle" font-family="Liberation Sans, Arial, sans-serif" stroke="#000" stroke-width="0.4">1000</text>
<text x="1622.40" y="693.6" font-size="26" text-anchor="middle" font-family="Liberation Sans, Arial, sans-serif" stroke="#000" stroke-width="0.4">1200</text>
<text x="484.8" y="742.2" font-size="29" text-anchor="middle" font-family="Liberation Sans, Arial, sans-serif" stroke="#000" stroke-width="0.5">E (keV)</text>
<text x="1242.6" y="742.2" font-size="29" text-anchor="middle" font-family="Liberation Sans, Arial, sans-serif" stroke="#000" stroke-width="0.5">E (keV)</text>
<text x="306.6" y="29.3" font-size="33.8" fill="#333" font-family="Liberation Sans, Arial, sans-serif">Small 1<tspan dy="2.4">×</tspan><tspan dy="-2.4">1</tspan><tspan dy="2.4">×</tspan><tspan dy="-2.4">1 cm</tspan><tspan dy="-17.2" font-size="17">3 </tspan><tspan dy="17.2">crystal</tspan></text>
<text x="1015.2" y="29.3" font-size="34" fill="#333" font-family="Liberation Sans, Arial, sans-serif">Large 5.74<tspan dy="2.4">×</tspan><tspan dy="-2.4">5.74</tspan><tspan dy="2.4">×</tspan><tspan dy="-2.4">1 cm</tspan><tspan dy="-17.2" font-size="17">3 </tspan><tspan dy="17.2">crystal</tspan></text>
<text transform="translate(29.3 356.7) rotate(-90)" text-anchor="middle" font-size="34" fill="#333" font-family="Liberation Sans, Arial, sans-serif">Intensity (<tspan dy="2.4">×</tspan><tspan dy="-2.4">10</tspan><tspan dy="-16.7" font-size="17.6">-3</tspan><tspan dy="16.7">)</tspan></text>
</svg>
</body></html>
